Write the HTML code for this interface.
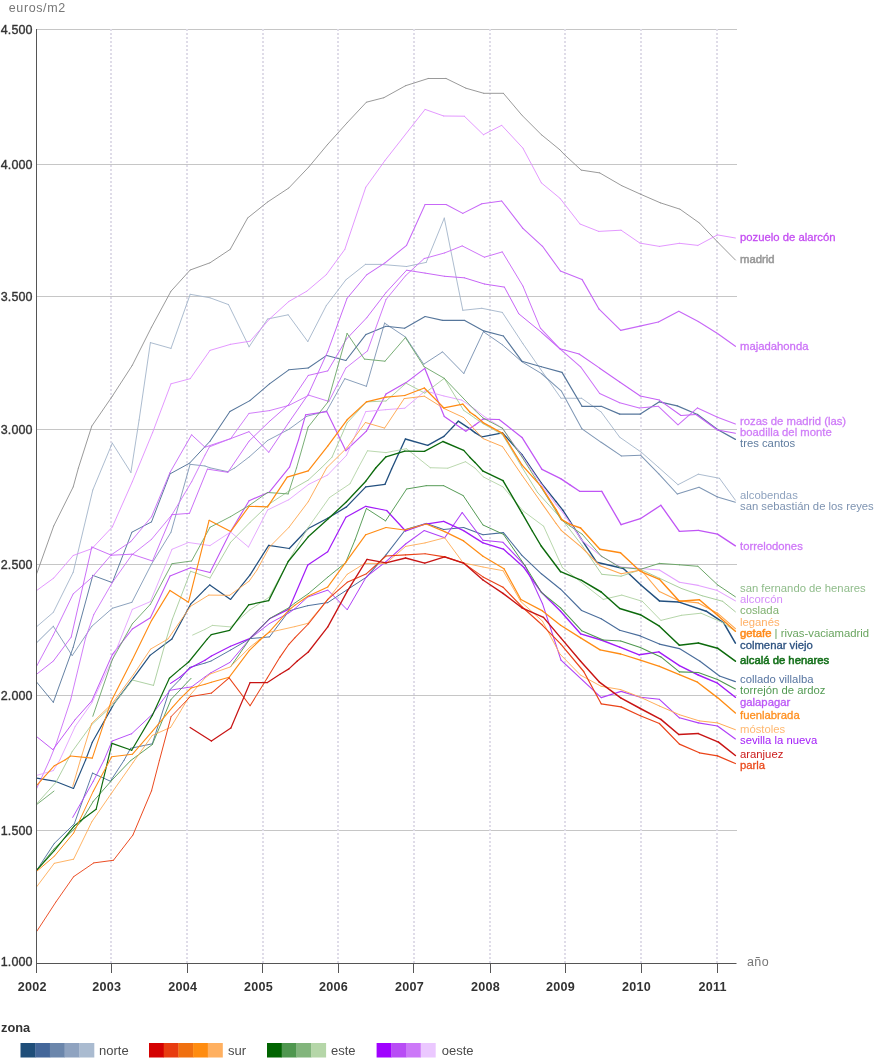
<!DOCTYPE html>
<html><head><meta charset="utf-8"><style>
html,body{margin:0;padding:0;background:#fff;}
body{width:875px;height:1059px;overflow:hidden;position:relative;font-family:"Liberation Sans",sans-serif;}
svg{position:absolute;left:0;top:0;opacity:0.9999;will-change:transform;}
text{font-family:"Liberation Sans",sans-serif;}
.yl{font-size:12.5px;fill:#333;font-weight:400;stroke:#333;stroke-width:0.35px;letter-spacing:0.1px;}
.xl{font-size:12.6px;fill:#333;font-weight:700;letter-spacing:0.25px;}
.lb{font-size:11.3px;}
</style></head><body>
<svg width="875" height="1059" viewBox="0 0 875 1059">
<rect width="875" height="1059" fill="#fff"/>
<g stroke="#c6c6c6" stroke-width="1" fill="none">
<line x1="37" y1="29.5" x2="737" y2="29.5"/>
<line x1="37" y1="164.5" x2="737" y2="164.5"/>
<line x1="37" y1="296.5" x2="737" y2="296.5"/>
<line x1="37" y1="429.5" x2="737" y2="429.5"/>
<line x1="37" y1="564.5" x2="737" y2="564.5"/>
<line x1="37" y1="695.5" x2="737" y2="695.5"/>
<line x1="37" y1="830.5" x2="737" y2="830.5"/>
</g>
<g stroke="#dfdce8" stroke-width="2" stroke-dasharray="2 2" fill="none">
<line x1="111" y1="29" x2="111" y2="963"/>
<line x1="187" y1="29" x2="187" y2="963"/>
<line x1="263" y1="29" x2="263" y2="963"/>
<line x1="338" y1="29" x2="338" y2="963"/>
<line x1="414" y1="29" x2="414" y2="963"/>
<line x1="490" y1="29" x2="490" y2="963"/>
<line x1="565" y1="29" x2="565" y2="963"/>
<line x1="641" y1="29" x2="641" y2="963"/>
<line x1="717" y1="29" x2="717" y2="963"/>
</g>
<g fill="none" stroke-linejoin="round" stroke-linecap="round">
<path d="M36.8,573.4L53.7,526.0" stroke="#8f8f8f" stroke-width="0.90"/>
<path d="M53.7,526.0L73.2,486.9" stroke="#8f8f8f" stroke-width="0.90"/>
<path d="M73.2,486.9L78.4,468.0" stroke="#8f8f8f" stroke-width="0.90"/>
<path d="M78.4,468.0L91.8,426.1" stroke="#8f8f8f" stroke-width="0.90"/>
<path d="M91.8,426.1L112.3,396.2" stroke="#8f8f8f" stroke-width="0.90"/>
<path d="M112.3,396.2L132.3,365.3" stroke="#8f8f8f" stroke-width="0.90"/>
<path d="M132.3,365.3L151.5,327.2" stroke="#8f8f8f" stroke-width="0.90"/>
<path d="M151.5,327.2L171.0,291.2" stroke="#8f8f8f" stroke-width="0.90"/>
<path d="M171.0,291.2L190.2,270.0" stroke="#8f8f8f" stroke-width="0.90"/>
<path d="M190.2,270.0L210.0,262.8" stroke="#8f8f8f" stroke-width="0.90"/>
<path d="M210.0,262.8L230.2,249.4" stroke="#8f8f8f" stroke-width="0.90"/>
<path d="M230.2,249.4L247.7,217.9" stroke="#8f8f8f" stroke-width="0.90"/>
<path d="M247.7,217.9L267.6,202.0" stroke="#8f8f8f" stroke-width="0.90"/>
<path d="M267.6,202.0L288.8,188.0" stroke="#8f8f8f" stroke-width="0.90"/>
<path d="M288.8,188.0L308.8,167.0" stroke="#8f8f8f" stroke-width="0.90"/>
<path d="M308.8,167.0L327.3,144.8" stroke="#8f8f8f" stroke-width="0.90"/>
<path d="M327.3,144.8L347.1,122.8" stroke="#8f8f8f" stroke-width="0.90"/>
<path d="M347.1,122.8L366.4,102.2" stroke="#8f8f8f" stroke-width="0.90"/>
<path d="M366.4,102.2L383.9,97.7" stroke="#8f8f8f" stroke-width="0.90"/>
<path d="M383.9,97.7L405.6,85.7" stroke="#8f8f8f" stroke-width="0.90"/>
<path d="M405.6,85.7L428.2,78.5" stroke="#8f8f8f" stroke-width="0.90"/>
<path d="M428.2,78.5L446.1,78.5" stroke="#8f8f8f" stroke-width="0.90"/>
<path d="M446.1,78.5L465.9,88.2" stroke="#8f8f8f" stroke-width="0.90"/>
<path d="M465.9,88.2L483.8,93.3" stroke="#8f8f8f" stroke-width="0.90"/>
<path d="M483.8,93.3L503.4,93.3" stroke="#8f8f8f" stroke-width="0.90"/>
<path d="M503.4,93.3L521.9,115.2" stroke="#8f8f8f" stroke-width="0.90"/>
<path d="M521.9,115.2L541.4,134.7" stroke="#8f8f8f" stroke-width="0.90"/>
<path d="M541.4,134.7L560.0,149.9" stroke="#8f8f8f" stroke-width="0.90"/>
<path d="M560.0,149.9L564.5,154.7" stroke="#8f8f8f" stroke-width="0.90"/>
<path d="M564.5,154.7L581.2,170.1" stroke="#8f8f8f" stroke-width="0.90"/>
<path d="M581.2,170.1L599.7,172.9" stroke="#8f8f8f" stroke-width="0.90"/>
<path d="M599.7,172.9L621.8,185.7" stroke="#8f8f8f" stroke-width="0.90"/>
<path d="M621.8,185.7L640.3,194.1" stroke="#8f8f8f" stroke-width="0.90"/>
<path d="M640.3,194.1L660.3,202.8" stroke="#8f8f8f" stroke-width="0.90"/>
<path d="M660.3,202.8L680.0,209.2" stroke="#8f8f8f" stroke-width="0.90"/>
<path d="M680.0,209.2L699.4,223.0" stroke="#8f8f8f" stroke-width="0.90"/>
<path d="M699.4,223.0L717.5,241.9" stroke="#8f8f8f" stroke-width="0.90"/>
<path d="M717.5,241.9L735.4,260.0" stroke="#8f8f8f" stroke-width="0.91"/>
<path d="M36.8,626.6L53.3,612.4" stroke="#a3b4ca" stroke-width="0.90"/>
<path d="M53.3,612.4L73.2,572.3" stroke="#a3b4ca" stroke-width="0.90"/>
<path d="M73.2,572.3L92.8,490.0" stroke="#a3b4ca" stroke-width="0.90"/>
<path d="M92.8,490.0L112.3,443.1" stroke="#a3b4ca" stroke-width="0.90"/>
<path d="M112.3,443.1L130.9,472.5" stroke="#a3b4ca" stroke-width="0.90"/>
<path d="M130.9,472.5L139.1,420.0" stroke="#a3b4ca" stroke-width="0.90"/>
<path d="M139.1,420.0L150.4,342.6" stroke="#a3b4ca" stroke-width="0.90"/>
<path d="M150.4,342.6L171.0,348.4" stroke="#a3b4ca" stroke-width="0.90"/>
<path d="M171.0,348.4L190.2,294.3" stroke="#a3b4ca" stroke-width="0.90"/>
<path d="M190.2,294.3L210.0,297.8" stroke="#a3b4ca" stroke-width="0.90"/>
<path d="M210.0,297.8L228.5,304.6" stroke="#a3b4ca" stroke-width="0.90"/>
<path d="M228.5,304.6L249.1,346.8" stroke="#a3b4ca" stroke-width="0.90"/>
<path d="M249.1,346.8L267.6,319.0" stroke="#a3b4ca" stroke-width="0.90"/>
<path d="M267.6,319.0L288.2,314.8" stroke="#a3b4ca" stroke-width="0.90"/>
<path d="M288.2,314.8L307.8,341.6" stroke="#a3b4ca" stroke-width="0.90"/>
<path d="M307.8,341.6L326.3,305.6" stroke="#a3b4ca" stroke-width="0.90"/>
<path d="M326.3,305.6L345.9,279.8" stroke="#a3b4ca" stroke-width="0.90"/>
<path d="M345.9,279.8L365.4,264.4" stroke="#a3b4ca" stroke-width="0.90"/>
<path d="M365.4,264.4L380.9,264.4" stroke="#a3b4ca" stroke-width="0.90"/>
<path d="M380.9,264.4L406.6,266.5" stroke="#a3b4ca" stroke-width="0.90"/>
<path d="M406.6,266.5L426.2,262.4" stroke="#a3b4ca" stroke-width="0.90"/>
<path d="M426.2,262.4L444.3,218.1" stroke="#a3b4ca" stroke-width="0.90"/>
<path d="M444.3,218.1L462.8,310.3" stroke="#a3b4ca" stroke-width="0.90"/>
<path d="M462.8,310.3L481.8,308.3" stroke="#a3b4ca" stroke-width="0.90"/>
<path d="M481.8,308.3L502.3,312.4" stroke="#a3b4ca" stroke-width="0.90"/>
<path d="M502.3,312.4L522.9,343.7" stroke="#a3b4ca" stroke-width="0.90"/>
<path d="M522.9,343.7L541.4,370.4" stroke="#a3b4ca" stroke-width="0.90"/>
<path d="M541.4,370.4L561.0,398.2" stroke="#a3b4ca" stroke-width="0.90"/>
<path d="M561.0,398.2L581.6,398.3" stroke="#a3b4ca" stroke-width="0.90"/>
<path d="M581.6,398.3L601.2,412.0" stroke="#a3b4ca" stroke-width="0.90"/>
<path d="M601.2,412.0L619.7,437.2" stroke="#a3b4ca" stroke-width="0.90"/>
<path d="M619.7,437.2L641.3,452.2" stroke="#a3b4ca" stroke-width="0.90"/>
<path d="M641.3,452.2L658.8,467.6" stroke="#a3b4ca" stroke-width="0.90"/>
<path d="M658.8,467.6L678.0,484.7" stroke="#a3b4ca" stroke-width="0.90"/>
<path d="M678.0,484.7L698.3,474.2" stroke="#a3b4ca" stroke-width="0.90"/>
<path d="M698.3,474.2L719.5,478.3" stroke="#a3b4ca" stroke-width="0.90"/>
<path d="M719.5,478.3L735.4,500.2" stroke="#a3b4ca" stroke-width="0.91"/>
<path d="M36.8,642.6L53.3,626.3" stroke="#7f97b5" stroke-width="0.90"/>
<path d="M53.3,626.3L72.2,655.6" stroke="#7f97b5" stroke-width="0.90"/>
<path d="M72.2,655.6L91.8,626.3" stroke="#7f97b5" stroke-width="0.90"/>
<path d="M91.8,626.3L112.3,608.3" stroke="#7f97b5" stroke-width="0.90"/>
<path d="M112.3,608.3L131.9,602.3" stroke="#7f97b5" stroke-width="0.90"/>
<path d="M131.9,602.3L151.5,564.1" stroke="#7f97b5" stroke-width="0.90"/>
<path d="M151.5,564.1L171.0,532.2" stroke="#7f97b5" stroke-width="0.90"/>
<path d="M171.0,532.2L190.1,464.3" stroke="#7f97b5" stroke-width="0.90"/>
<path d="M190.1,464.3L205.0,466.0" stroke="#7f97b5" stroke-width="0.90"/>
<path d="M205.0,466.0L209.9,467.8" stroke="#7f97b5" stroke-width="0.90"/>
<path d="M209.9,467.8L227.9,471.7" stroke="#7f97b5" stroke-width="0.90"/>
<path d="M227.9,471.7L234.7,468.0" stroke="#7f97b5" stroke-width="0.90"/>
<path d="M234.7,468.0L249.6,456.6" stroke="#7f97b5" stroke-width="0.90"/>
<path d="M249.6,456.6L267.7,440.4" stroke="#7f97b5" stroke-width="0.90"/>
<path d="M267.7,440.4L288.9,429.3" stroke="#7f97b5" stroke-width="0.90"/>
<path d="M288.9,429.3L306.8,416.3" stroke="#7f97b5" stroke-width="0.90"/>
<path d="M306.8,416.3L326.7,411.0" stroke="#7f97b5" stroke-width="0.91"/>
<path d="M326.7,411.0L344.8,378.7" stroke="#7f97b5" stroke-width="0.91"/>
<path d="M344.8,378.7L366.4,386.3" stroke="#7f97b5" stroke-width="0.92"/>
<path d="M366.4,386.3L384.6,323.1" stroke="#7f97b5" stroke-width="0.93"/>
<path d="M384.6,323.1L405.6,337.1" stroke="#7f97b5" stroke-width="0.94"/>
<path d="M405.6,337.1L423.7,364.2" stroke="#7f97b5" stroke-width="0.95"/>
<path d="M423.7,364.2L442.6,351.9" stroke="#7f97b5" stroke-width="0.96"/>
<path d="M442.6,351.9L463.8,373.5" stroke="#7f97b5" stroke-width="0.97"/>
<path d="M463.8,373.5L483.4,331.7" stroke="#7f97b5" stroke-width="0.98"/>
<path d="M483.4,331.7L502.3,344.7" stroke="#7f97b5" stroke-width="0.98"/>
<path d="M502.3,344.7L521.9,361.8" stroke="#7f97b5" stroke-width="0.99"/>
<path d="M521.9,361.8L541.4,373.5" stroke="#7f97b5" stroke-width="1.00"/>
<path d="M541.4,373.5L561.5,391.2" stroke="#7f97b5" stroke-width="1.01"/>
<path d="M561.5,391.2L582.0,428.9" stroke="#7f97b5" stroke-width="1.02"/>
<path d="M582.0,428.9L601.2,442.3" stroke="#7f97b5" stroke-width="1.03"/>
<path d="M601.2,442.3L621.3,455.9" stroke="#7f97b5" stroke-width="1.04"/>
<path d="M621.3,455.9L640.7,455.3" stroke="#7f97b5" stroke-width="1.05"/>
<path d="M640.7,455.3L658.8,473.8" stroke="#7f97b5" stroke-width="1.05"/>
<path d="M658.8,473.8L677.3,494.0" stroke="#7f97b5" stroke-width="1.06"/>
<path d="M677.3,494.0L699.0,487.2" stroke="#7f97b5" stroke-width="1.07"/>
<path d="M699.0,487.2L717.5,496.9" stroke="#7f97b5" stroke-width="1.08"/>
<path d="M717.5,496.9L735.4,502.2" stroke="#7f97b5" stroke-width="1.09"/>
<path d="M36.8,682.3L53.3,702.3" stroke="#56769b" stroke-width="0.91"/>
<path d="M53.3,702.3L73.2,647.3" stroke="#56769b" stroke-width="0.92"/>
<path d="M73.2,647.3L92.8,575.4" stroke="#56769b" stroke-width="0.93"/>
<path d="M92.8,575.4L112.3,582.6" stroke="#56769b" stroke-width="0.94"/>
<path d="M112.3,582.6L131.9,532.2" stroke="#56769b" stroke-width="0.95"/>
<path d="M131.9,532.2L151.5,521.9" stroke="#56769b" stroke-width="0.96"/>
<path d="M151.5,521.9L170.0,473.9" stroke="#56769b" stroke-width="0.97"/>
<path d="M170.0,473.9L189.5,463.2" stroke="#56769b" stroke-width="0.98"/>
<path d="M189.5,463.2L205.0,446.6" stroke="#56769b" stroke-width="0.99"/>
<path d="M205.0,446.6L210.0,441.3" stroke="#56769b" stroke-width="1.00"/>
<path d="M210.0,441.3L229.9,411.5" stroke="#56769b" stroke-width="1.01"/>
<path d="M229.9,411.5L249.9,400.6" stroke="#56769b" stroke-width="1.02"/>
<path d="M249.9,400.6L269.5,383.8" stroke="#56769b" stroke-width="1.03"/>
<path d="M269.5,383.8L288.8,369.8" stroke="#56769b" stroke-width="1.04"/>
<path d="M288.8,369.8L308.2,368.0" stroke="#56769b" stroke-width="1.05"/>
<path d="M308.2,368.0L326.7,355.4" stroke="#56769b" stroke-width="1.06"/>
<path d="M326.7,355.4L345.9,360.5" stroke="#56769b" stroke-width="1.07"/>
<path d="M345.9,360.5L366.0,334.4" stroke="#56769b" stroke-width="1.08"/>
<path d="M366.0,334.4L386.0,326.2" stroke="#56769b" stroke-width="1.09"/>
<path d="M386.0,326.2L404.6,328.2" stroke="#56769b" stroke-width="1.10"/>
<path d="M404.6,328.2L425.1,316.5" stroke="#56769b" stroke-width="1.11"/>
<path d="M425.1,316.5L442.6,320.4" stroke="#56769b" stroke-width="1.12"/>
<path d="M442.6,320.4L464.7,320.4" stroke="#56769b" stroke-width="1.13"/>
<path d="M464.7,320.4L483.8,330.9" stroke="#56769b" stroke-width="1.14"/>
<path d="M483.8,330.9L503.4,336.0" stroke="#56769b" stroke-width="1.15"/>
<path d="M503.4,336.0L521.9,361.2" stroke="#56769b" stroke-width="1.16"/>
<path d="M521.9,361.2L541.4,366.7" stroke="#56769b" stroke-width="1.17"/>
<path d="M541.4,366.7L562.0,372.4" stroke="#56769b" stroke-width="1.18"/>
<path d="M562.0,372.4L582.0,406.3" stroke="#56769b" stroke-width="1.19"/>
<path d="M582.0,406.3L601.2,406.3" stroke="#56769b" stroke-width="1.20"/>
<path d="M601.2,406.3L619.7,414.1" stroke="#56769b" stroke-width="1.21"/>
<path d="M619.7,414.1L640.3,414.1" stroke="#56769b" stroke-width="1.22"/>
<path d="M640.3,414.1L659.4,401.8" stroke="#56769b" stroke-width="1.23"/>
<path d="M659.4,401.8L677.3,405.9" stroke="#56769b" stroke-width="1.24"/>
<path d="M677.3,405.9L697.5,414.5" stroke="#56769b" stroke-width="1.25"/>
<path d="M697.5,414.5L717.5,429.5" stroke="#56769b" stroke-width="1.26"/>
<path d="M717.5,429.5L735.4,439.4" stroke="#56769b" stroke-width="1.27"/>
<path d="M36.8,870.1L54.3,843.4" stroke="#4a6d9b" stroke-width="0.90"/>
<path d="M54.3,843.4L74.3,823.8" stroke="#4a6d9b" stroke-width="0.90"/>
<path d="M74.3,823.8L92.5,773.1" stroke="#4a6d9b" stroke-width="0.90"/>
<path d="M92.5,773.1L110.4,781.2" stroke="#4a6d9b" stroke-width="0.90"/>
<path d="M110.4,781.2L123.9,760.5" stroke="#4a6d9b" stroke-width="0.90"/>
<path d="M123.9,760.5L130.6,748.3" stroke="#4a6d9b" stroke-width="0.90"/>
<path d="M130.6,748.3L152.3,743.8" stroke="#4a6d9b" stroke-width="0.90"/>
<path d="M152.3,743.8L169.4,690.3" stroke="#4a6d9b" stroke-width="0.91"/>
<path d="M169.4,690.3L180.0,679.4" stroke="#4a6d9b" stroke-width="0.91"/>
<path d="M180.0,679.4L189.6,667.4" stroke="#4a6d9b" stroke-width="0.92"/>
<path d="M189.6,667.4L205.0,663.1" stroke="#4a6d9b" stroke-width="0.92"/>
<path d="M205.0,663.1L211.1,661.0" stroke="#4a6d9b" stroke-width="0.93"/>
<path d="M211.1,661.0L230.5,650.1" stroke="#4a6d9b" stroke-width="0.93"/>
<path d="M230.5,650.1L250.1,638.6" stroke="#4a6d9b" stroke-width="0.94"/>
<path d="M250.1,638.6L269.5,636.9" stroke="#4a6d9b" stroke-width="0.95"/>
<path d="M269.5,636.9L288.9,611.1" stroke="#4a6d9b" stroke-width="0.96"/>
<path d="M288.9,611.1L295.0,609.1" stroke="#4a6d9b" stroke-width="0.97"/>
<path d="M295.0,609.1L307.6,605.7" stroke="#4a6d9b" stroke-width="0.97"/>
<path d="M307.6,605.7L327.8,602.6" stroke="#4a6d9b" stroke-width="0.98"/>
<path d="M327.8,602.6L347.2,589.7" stroke="#4a6d9b" stroke-width="0.99"/>
<path d="M347.2,589.7L366.5,577.1" stroke="#4a6d9b" stroke-width="1.00"/>
<path d="M366.5,577.1L386.0,554.9" stroke="#4a6d9b" stroke-width="1.01"/>
<path d="M386.0,554.9L405.6,529.5" stroke="#4a6d9b" stroke-width="1.02"/>
<path d="M405.6,529.5L426.2,523.4" stroke="#4a6d9b" stroke-width="1.03"/>
<path d="M426.2,523.4L443.7,529.5" stroke="#4a6d9b" stroke-width="1.04"/>
<path d="M443.7,529.5L463.6,527.5" stroke="#4a6d9b" stroke-width="1.05"/>
<path d="M463.6,527.5L483.0,534.7" stroke="#4a6d9b" stroke-width="1.06"/>
<path d="M483.0,534.7L503.4,532.6" stroke="#4a6d9b" stroke-width="1.07"/>
<path d="M503.4,532.6L521.9,555.3" stroke="#4a6d9b" stroke-width="1.08"/>
<path d="M521.9,555.3L541.4,573.8" stroke="#4a6d9b" stroke-width="1.08"/>
<path d="M541.4,573.8L560.6,589.2" stroke="#4a6d9b" stroke-width="1.09"/>
<path d="M560.6,589.2L581.6,610.5" stroke="#4a6d9b" stroke-width="1.10"/>
<path d="M581.6,610.5L601.2,618.8" stroke="#4a6d9b" stroke-width="1.11"/>
<path d="M601.2,618.8L619.7,630.3" stroke="#4a6d9b" stroke-width="1.12"/>
<path d="M619.7,630.3L640.3,635.9" stroke="#4a6d9b" stroke-width="1.13"/>
<path d="M640.3,635.9L659.4,644.1" stroke="#4a6d9b" stroke-width="1.14"/>
<path d="M659.4,644.1L679.4,648.6" stroke="#4a6d9b" stroke-width="1.15"/>
<path d="M679.4,648.6L700.0,661.2" stroke="#4a6d9b" stroke-width="1.16"/>
<path d="M700.0,661.2L719.5,676.0" stroke="#4a6d9b" stroke-width="1.17"/>
<path d="M719.5,676.0L735.4,681.6" stroke="#4a6d9b" stroke-width="1.18"/>
<path d="M36.7,778.1L55.8,781.4" stroke="#23507f" stroke-width="1.11"/>
<path d="M55.8,781.4L73.5,788.5" stroke="#23507f" stroke-width="1.12"/>
<path d="M73.5,788.5L85.6,760.0" stroke="#23507f" stroke-width="1.13"/>
<path d="M85.6,760.0L92.3,742.3" stroke="#23507f" stroke-width="1.14"/>
<path d="M92.3,742.3L114.2,703.4" stroke="#23507f" stroke-width="1.15"/>
<path d="M114.2,703.4L133.7,677.7" stroke="#23507f" stroke-width="1.16"/>
<path d="M133.7,677.7L150.0,655.4" stroke="#23507f" stroke-width="1.17"/>
<path d="M150.0,655.4L171.9,639.0" stroke="#23507f" stroke-width="1.18"/>
<path d="M171.9,639.0L190.6,604.2" stroke="#23507f" stroke-width="1.20"/>
<path d="M190.6,604.2L205.0,589.4" stroke="#23507f" stroke-width="1.21"/>
<path d="M205.0,589.4L209.8,584.9" stroke="#23507f" stroke-width="1.21"/>
<path d="M209.8,584.9L230.6,599.4" stroke="#23507f" stroke-width="1.22"/>
<path d="M230.6,599.4L250.1,574.8" stroke="#23507f" stroke-width="1.23"/>
<path d="M250.1,574.8L268.7,545.4" stroke="#23507f" stroke-width="1.25"/>
<path d="M268.7,545.4L289.3,548.5" stroke="#23507f" stroke-width="1.26"/>
<path d="M289.3,548.5L308.2,528.5" stroke="#23507f" stroke-width="1.27"/>
<path d="M308.2,528.5L327.7,518.2" stroke="#23507f" stroke-width="1.28"/>
<path d="M327.7,518.2L346.5,506.9" stroke="#23507f" stroke-width="1.30"/>
<path d="M346.5,506.9L365.8,486.9" stroke="#23507f" stroke-width="1.31"/>
<path d="M365.8,486.9L385.0,484.3" stroke="#23507f" stroke-width="1.32"/>
<path d="M385.0,484.3L391.6,469.0" stroke="#23507f" stroke-width="1.33"/>
<path d="M391.6,469.0L405.4,439.0" stroke="#23507f" stroke-width="1.33"/>
<path d="M405.4,439.0L427.7,445.4" stroke="#23507f" stroke-width="1.35"/>
<path d="M427.7,445.4L443.9,436.4" stroke="#23507f" stroke-width="1.36"/>
<path d="M443.9,436.4L458.3,421.2" stroke="#23507f" stroke-width="1.37"/>
<path d="M458.3,421.2L470.0,428.9" stroke="#23507f" stroke-width="1.38"/>
<path d="M470.0,428.9L475.0,432.6" stroke="#23507f" stroke-width="1.38"/>
<path d="M475.0,432.6L482.0,436.9" stroke="#23507f" stroke-width="1.38"/>
<path d="M482.0,436.9L502.5,432.9" stroke="#23507f" stroke-width="1.39"/>
<path d="M502.5,432.9L521.9,454.6" stroke="#23507f" stroke-width="1.41"/>
<path d="M521.9,454.6L541.3,483.1" stroke="#23507f" stroke-width="1.42"/>
<path d="M541.3,483.1L556.1,501.6" stroke="#23507f" stroke-width="1.43"/>
<path d="M556.1,501.6L562.8,510.1" stroke="#23507f" stroke-width="1.44"/>
<path d="M562.8,510.1L570.0,521.4" stroke="#23507f" stroke-width="1.44"/>
<path d="M570.0,521.4L580.6,538.1" stroke="#23507f" stroke-width="1.45"/>
<path d="M580.6,538.1L596.6,562.2" stroke="#23507f" stroke-width="1.45"/>
<path d="M596.6,562.2L623.4,568.5" stroke="#23507f" stroke-width="1.47"/>
<path d="M623.4,568.5L640.9,585.0" stroke="#23507f" stroke-width="1.48"/>
<path d="M640.9,585.0L659.4,600.9" stroke="#23507f" stroke-width="1.49"/>
<path d="M659.4,600.9L678.4,601.9" stroke="#23507f" stroke-width="1.50"/>
<path d="M678.4,601.9L706.2,611.2" stroke="#23507f" stroke-width="1.52"/>
<path d="M706.2,611.2L723.7,622.9" stroke="#23507f" stroke-width="1.53"/>
<path d="M723.7,622.9L735.4,643.1" stroke="#23507f" stroke-width="1.54"/>
<path d="M36.8,590.4L53.7,578.1" stroke="#e08cff" stroke-width="0.90"/>
<path d="M53.7,578.1L73.2,555.5" stroke="#e08cff" stroke-width="0.90"/>
<path d="M73.2,555.5L91.8,548.7" stroke="#e08cff" stroke-width="0.90"/>
<path d="M91.8,548.7L112.3,527.0" stroke="#e08cff" stroke-width="0.90"/>
<path d="M112.3,527.0L132.3,481.8" stroke="#e08cff" stroke-width="0.90"/>
<path d="M132.3,481.8L152.5,432.8" stroke="#e08cff" stroke-width="0.90"/>
<path d="M152.5,432.8L171.0,383.8" stroke="#e08cff" stroke-width="0.90"/>
<path d="M171.0,383.8L190.2,378.7" stroke="#e08cff" stroke-width="0.90"/>
<path d="M190.2,378.7L210.0,350.4" stroke="#e08cff" stroke-width="0.90"/>
<path d="M210.0,350.4L230.6,344.3" stroke="#e08cff" stroke-width="0.90"/>
<path d="M230.6,344.3L250.1,341.2" stroke="#e08cff" stroke-width="0.90"/>
<path d="M250.1,341.2L269.5,319.0" stroke="#e08cff" stroke-width="0.90"/>
<path d="M269.5,319.0L288.8,301.5" stroke="#e08cff" stroke-width="0.90"/>
<path d="M288.8,301.5L306.8,291.2" stroke="#e08cff" stroke-width="0.90"/>
<path d="M306.8,291.2L326.3,274.7" stroke="#e08cff" stroke-width="0.90"/>
<path d="M326.3,274.7L344.8,249.4" stroke="#e08cff" stroke-width="0.90"/>
<path d="M344.8,249.4L365.8,187.2" stroke="#e08cff" stroke-width="0.90"/>
<path d="M365.8,187.2L385.0,160.5" stroke="#e08cff" stroke-width="0.90"/>
<path d="M385.0,160.5L425.1,109.4" stroke="#e08cff" stroke-width="0.90"/>
<path d="M425.1,109.4L443.7,116.0" stroke="#e08cff" stroke-width="0.90"/>
<path d="M443.7,116.0L464.3,116.2" stroke="#e08cff" stroke-width="0.90"/>
<path d="M464.3,116.2L483.4,134.7" stroke="#e08cff" stroke-width="0.90"/>
<path d="M483.4,134.7L501.7,125.3" stroke="#e08cff" stroke-width="0.90"/>
<path d="M501.7,125.3L522.9,148.1" stroke="#e08cff" stroke-width="0.90"/>
<path d="M522.9,148.1L541.4,182.9" stroke="#e08cff" stroke-width="0.90"/>
<path d="M541.4,182.9L560.0,198.3" stroke="#e08cff" stroke-width="0.90"/>
<path d="M560.0,198.3L580.0,224.0" stroke="#e08cff" stroke-width="0.90"/>
<path d="M580.0,224.0L598.7,231.4" stroke="#e08cff" stroke-width="0.90"/>
<path d="M598.7,231.4L621.1,230.2" stroke="#e08cff" stroke-width="0.90"/>
<path d="M621.1,230.2L639.9,243.1" stroke="#e08cff" stroke-width="0.90"/>
<path d="M639.9,243.1L659.4,246.4" stroke="#e08cff" stroke-width="0.90"/>
<path d="M659.4,246.4L679.4,243.3" stroke="#e08cff" stroke-width="0.90"/>
<path d="M679.4,243.3L697.9,245.4" stroke="#e08cff" stroke-width="0.90"/>
<path d="M697.9,245.4L717.5,234.9" stroke="#e08cff" stroke-width="0.90"/>
<path d="M717.5,234.9L735.4,238.0" stroke="#e08cff" stroke-width="0.91"/>
<path d="M36.8,665.9L53.3,635.0" stroke="#c768f7" stroke-width="0.90"/>
<path d="M53.3,635.0L73.2,593.9" stroke="#c768f7" stroke-width="0.90"/>
<path d="M73.2,593.9L91.8,577.5" stroke="#c768f7" stroke-width="0.90"/>
<path d="M91.8,577.5L111.3,554.8" stroke="#c768f7" stroke-width="0.90"/>
<path d="M111.3,554.8L130.9,541.5" stroke="#c768f7" stroke-width="0.90"/>
<path d="M130.9,541.5L151.5,516.8" stroke="#c768f7" stroke-width="0.90"/>
<path d="M151.5,516.8L170.0,472.5" stroke="#c768f7" stroke-width="0.91"/>
<path d="M170.0,472.5L191.6,434.8" stroke="#c768f7" stroke-width="0.91"/>
<path d="M191.6,434.8L205.0,447.2" stroke="#c768f7" stroke-width="0.92"/>
<path d="M205.0,447.2L230.7,438.6" stroke="#c768f7" stroke-width="0.93"/>
<path d="M230.7,438.6L249.0,431.7" stroke="#c768f7" stroke-width="0.94"/>
<path d="M249.0,431.7L268.7,452.3" stroke="#c768f7" stroke-width="0.95"/>
<path d="M268.7,452.3L288.9,422.3" stroke="#c768f7" stroke-width="0.96"/>
<path d="M288.9,422.3L308.3,394.3" stroke="#c768f7" stroke-width="0.97"/>
<path d="M308.3,394.3L327.8,351.4" stroke="#c768f7" stroke-width="0.98"/>
<path d="M327.8,351.4L347.1,298.3" stroke="#c768f7" stroke-width="0.99"/>
<path d="M347.1,298.3L366.6,274.9" stroke="#c768f7" stroke-width="1.00"/>
<path d="M366.6,274.9L385.0,262.8" stroke="#c768f7" stroke-width="1.01"/>
<path d="M385.0,262.8L406.6,245.3" stroke="#c768f7" stroke-width="1.02"/>
<path d="M406.6,245.3L425.1,204.5" stroke="#c768f7" stroke-width="1.03"/>
<path d="M425.1,204.5L446.1,204.5" stroke="#c768f7" stroke-width="1.04"/>
<path d="M446.1,204.5L462.8,213.4" stroke="#c768f7" stroke-width="1.05"/>
<path d="M462.8,213.4L481.8,203.7" stroke="#c768f7" stroke-width="1.06"/>
<path d="M481.8,203.7L501.7,201.0" stroke="#c768f7" stroke-width="1.07"/>
<path d="M501.7,201.0L522.9,228.4" stroke="#c768f7" stroke-width="1.07"/>
<path d="M522.9,228.4L542.5,246.3" stroke="#c768f7" stroke-width="1.08"/>
<path d="M542.5,246.3L560.4,271.0" stroke="#c768f7" stroke-width="1.09"/>
<path d="M560.4,271.0L582.0,279.4" stroke="#c768f7" stroke-width="1.10"/>
<path d="M582.0,279.4L599.1,309.2" stroke="#c768f7" stroke-width="1.11"/>
<path d="M599.1,309.2L620.7,330.4" stroke="#c768f7" stroke-width="1.12"/>
<path d="M620.7,330.4L639.9,326.1" stroke="#c768f7" stroke-width="1.13"/>
<path d="M639.9,326.1L658.4,322.0" stroke="#c768f7" stroke-width="1.14"/>
<path d="M658.4,322.0L678.8,311.3" stroke="#c768f7" stroke-width="1.15"/>
<path d="M678.8,311.3L698.3,321.6" stroke="#c768f7" stroke-width="1.16"/>
<path d="M698.3,321.6L717.5,333.5" stroke="#c768f7" stroke-width="1.17"/>
<path d="M717.5,333.5L735.4,346.3" stroke="#c768f7" stroke-width="1.18"/>
<path d="M36.7,788.5L49.6,760.0" stroke="#cc6ff8" stroke-width="0.90"/>
<path d="M49.6,760.0L55.9,744.6" stroke="#cc6ff8" stroke-width="0.90"/>
<path d="M55.9,744.6L70.6,700.0" stroke="#cc6ff8" stroke-width="0.90"/>
<path d="M70.6,700.0L85.6,638.0" stroke="#cc6ff8" stroke-width="0.90"/>
<path d="M85.6,638.0L93.8,614.5" stroke="#cc6ff8" stroke-width="0.90"/>
<path d="M93.8,614.5L112.3,582.6" stroke="#cc6ff8" stroke-width="0.90"/>
<path d="M112.3,582.6L131.9,554.8" stroke="#cc6ff8" stroke-width="0.90"/>
<path d="M131.9,554.8L151.5,539.4" stroke="#cc6ff8" stroke-width="0.90"/>
<path d="M151.5,539.4L172.0,514.7" stroke="#cc6ff8" stroke-width="0.90"/>
<path d="M172.0,514.7L191.6,481.8" stroke="#cc6ff8" stroke-width="0.90"/>
<path d="M191.6,481.8L205.0,455.1" stroke="#cc6ff8" stroke-width="0.90"/>
<path d="M205.0,455.1L209.5,446.8" stroke="#cc6ff8" stroke-width="0.90"/>
<path d="M209.5,446.8L230.7,438.6" stroke="#cc6ff8" stroke-width="0.90"/>
<path d="M230.7,438.6L249.0,413.4" stroke="#cc6ff8" stroke-width="0.90"/>
<path d="M249.0,413.4L269.5,410.6" stroke="#cc6ff8" stroke-width="0.90"/>
<path d="M269.5,410.6L288.9,405.4" stroke="#cc6ff8" stroke-width="0.90"/>
<path d="M288.9,405.4L308.9,395.2" stroke="#cc6ff8" stroke-width="0.90"/>
<path d="M308.9,395.2L328.9,401.4" stroke="#cc6ff8" stroke-width="0.91"/>
<path d="M328.9,401.4L345.9,368.0" stroke="#cc6ff8" stroke-width="0.91"/>
<path d="M345.9,368.0L367.5,350.9" stroke="#cc6ff8" stroke-width="0.92"/>
<path d="M367.5,350.9L386.1,299.4" stroke="#cc6ff8" stroke-width="0.93"/>
<path d="M386.1,299.4L405.6,275.7" stroke="#cc6ff8" stroke-width="0.94"/>
<path d="M405.6,275.7L424.1,258.6" stroke="#cc6ff8" stroke-width="0.95"/>
<path d="M424.1,258.6L444.7,252.9" stroke="#cc6ff8" stroke-width="0.96"/>
<path d="M444.7,252.9L462.2,245.9" stroke="#cc6ff8" stroke-width="0.97"/>
<path d="M462.2,245.9L484.4,257.2" stroke="#cc6ff8" stroke-width="0.97"/>
<path d="M484.4,257.2L502.3,251.9" stroke="#cc6ff8" stroke-width="0.98"/>
<path d="M502.3,251.9L522.9,286.0" stroke="#cc6ff8" stroke-width="0.99"/>
<path d="M522.9,286.0L540.4,328.2" stroke="#cc6ff8" stroke-width="1.00"/>
<path d="M540.4,328.2L560.0,348.8" stroke="#cc6ff8" stroke-width="1.01"/>
<path d="M560.0,348.8L580.6,366.8" stroke="#cc6ff8" stroke-width="1.02"/>
<path d="M580.6,366.8L599.7,393.5" stroke="#cc6ff8" stroke-width="1.03"/>
<path d="M599.7,393.5L619.7,402.8" stroke="#cc6ff8" stroke-width="1.04"/>
<path d="M619.7,402.8L639.3,407.9" stroke="#cc6ff8" stroke-width="1.04"/>
<path d="M639.3,407.9L658.4,406.3" stroke="#cc6ff8" stroke-width="1.05"/>
<path d="M658.4,406.3L678.0,424.8" stroke="#cc6ff8" stroke-width="1.06"/>
<path d="M678.0,424.8L697.5,407.9" stroke="#cc6ff8" stroke-width="1.07"/>
<path d="M697.5,407.9L717.5,417.2" stroke="#cc6ff8" stroke-width="1.08"/>
<path d="M717.5,417.2L735.4,424.0" stroke="#cc6ff8" stroke-width="1.09"/>
<path d="M36.8,674.1L53.3,661.1" stroke="#c560f6" stroke-width="0.90"/>
<path d="M53.3,661.1L71.2,637.1" stroke="#c560f6" stroke-width="0.90"/>
<path d="M71.2,637.1L91.8,547.0" stroke="#c560f6" stroke-width="0.90"/>
<path d="M91.8,547.0L111.3,555.2" stroke="#c560f6" stroke-width="0.90"/>
<path d="M111.3,555.2L131.9,554.2" stroke="#c560f6" stroke-width="0.90"/>
<path d="M131.9,554.2L152.5,561.0" stroke="#c560f6" stroke-width="0.90"/>
<path d="M152.5,561.0L172.0,514.7" stroke="#c560f6" stroke-width="0.90"/>
<path d="M172.0,514.7L189.5,513.3" stroke="#c560f6" stroke-width="0.90"/>
<path d="M189.5,513.3L207.4,469.1" stroke="#c560f6" stroke-width="0.90"/>
<path d="M207.4,469.1L227.9,472.3" stroke="#c560f6" stroke-width="0.90"/>
<path d="M227.9,472.3L249.1,441.1" stroke="#c560f6" stroke-width="0.90"/>
<path d="M249.1,441.1L269.5,421.4" stroke="#c560f6" stroke-width="0.90"/>
<path d="M269.5,421.4L288.9,404.3" stroke="#c560f6" stroke-width="0.90"/>
<path d="M288.9,404.3L308.3,375.4" stroke="#c560f6" stroke-width="0.90"/>
<path d="M308.3,375.4L327.8,370.9" stroke="#c560f6" stroke-width="0.91"/>
<path d="M327.8,370.9L346.6,338.9" stroke="#c560f6" stroke-width="0.91"/>
<path d="M346.6,338.9L366.6,317.9" stroke="#c560f6" stroke-width="0.92"/>
<path d="M366.6,317.9L386.0,292.6" stroke="#c560f6" stroke-width="0.93"/>
<path d="M386.0,292.6L406.6,270.2" stroke="#c560f6" stroke-width="0.94"/>
<path d="M406.6,270.2L425.1,273.1" stroke="#c560f6" stroke-width="0.95"/>
<path d="M425.1,273.1L444.7,276.3" stroke="#c560f6" stroke-width="0.96"/>
<path d="M444.7,276.3L464.3,277.8" stroke="#c560f6" stroke-width="0.97"/>
<path d="M464.3,277.8L484.4,284.0" stroke="#c560f6" stroke-width="0.98"/>
<path d="M484.4,284.0L504.4,287.1" stroke="#c560f6" stroke-width="0.98"/>
<path d="M504.4,287.1L518.8,313.8" stroke="#c560f6" stroke-width="0.99"/>
<path d="M518.8,313.8L541.4,332.3" stroke="#c560f6" stroke-width="1.00"/>
<path d="M541.4,332.3L560.0,348.8" stroke="#c560f6" stroke-width="1.01"/>
<path d="M560.0,348.8L579.1,354.0" stroke="#c560f6" stroke-width="1.02"/>
<path d="M579.1,354.0L599.7,368.2" stroke="#c560f6" stroke-width="1.03"/>
<path d="M599.7,368.2L619.7,382.0" stroke="#c560f6" stroke-width="1.04"/>
<path d="M619.7,382.0L640.3,396.0" stroke="#c560f6" stroke-width="1.04"/>
<path d="M640.3,396.0L659.4,400.1" stroke="#c560f6" stroke-width="1.05"/>
<path d="M659.4,400.1L681.0,415.5" stroke="#c560f6" stroke-width="1.06"/>
<path d="M681.0,415.5L695.9,414.5" stroke="#c560f6" stroke-width="1.07"/>
<path d="M695.9,414.5L717.5,430.0" stroke="#c560f6" stroke-width="1.08"/>
<path d="M717.5,430.0L735.4,433.3" stroke="#c560f6" stroke-width="1.09"/>
<path d="M36.6,736.6L52.9,749.7" stroke="#c055f5" stroke-width="0.98"/>
<path d="M52.9,749.7L75.3,719.4" stroke="#c055f5" stroke-width="0.99"/>
<path d="M75.3,719.4L91.8,700.9" stroke="#c055f5" stroke-width="1.00"/>
<path d="M91.8,700.9L112.3,654.6" stroke="#c055f5" stroke-width="1.01"/>
<path d="M112.3,654.6L132.3,629.0" stroke="#c055f5" stroke-width="1.02"/>
<path d="M132.3,629.0L150.4,617.7" stroke="#c055f5" stroke-width="1.03"/>
<path d="M150.4,617.7L170.0,576.0" stroke="#c055f5" stroke-width="1.04"/>
<path d="M170.0,576.0L190.6,567.8" stroke="#c055f5" stroke-width="1.06"/>
<path d="M190.6,567.8L210.0,572.6" stroke="#c055f5" stroke-width="1.07"/>
<path d="M210.0,572.6L230.6,531.6" stroke="#c055f5" stroke-width="1.08"/>
<path d="M230.6,531.6L249.1,500.7" stroke="#c055f5" stroke-width="1.09"/>
<path d="M249.1,500.7L269.5,491.9" stroke="#c055f5" stroke-width="1.10"/>
<path d="M269.5,491.9L289.5,467.2" stroke="#c055f5" stroke-width="1.11"/>
<path d="M289.5,467.2L298.5,440.0" stroke="#c055f5" stroke-width="1.12"/>
<path d="M298.5,440.0L305.7,414.7" stroke="#c055f5" stroke-width="1.12"/>
<path d="M305.7,414.7L326.7,411.6" stroke="#c055f5" stroke-width="1.13"/>
<path d="M326.7,411.6L345.9,450.7" stroke="#c055f5" stroke-width="1.14"/>
<path d="M345.9,450.7L366.4,431.2" stroke="#c055f5" stroke-width="1.15"/>
<path d="M366.4,431.2L386.0,394.1" stroke="#c055f5" stroke-width="1.16"/>
<path d="M386.0,394.1L406.1,382.6" stroke="#c055f5" stroke-width="1.18"/>
<path d="M406.1,382.6L424.8,368.4" stroke="#c055f5" stroke-width="1.19"/>
<path d="M424.8,368.4L444.3,416.4" stroke="#c055f5" stroke-width="1.20"/>
<path d="M444.3,416.4L465.8,431.2" stroke="#c055f5" stroke-width="1.21"/>
<path d="M465.8,431.2L475.0,425.1" stroke="#c055f5" stroke-width="1.22"/>
<path d="M475.0,425.1L483.1,419.1" stroke="#c055f5" stroke-width="1.22"/>
<path d="M483.1,419.1L499.1,419.5" stroke="#c055f5" stroke-width="1.23"/>
<path d="M499.1,419.5L522.0,437.4" stroke="#c055f5" stroke-width="1.24"/>
<path d="M522.0,437.4L542.0,469.4" stroke="#c055f5" stroke-width="1.25"/>
<path d="M542.0,469.4L560.7,478.6" stroke="#c055f5" stroke-width="1.26"/>
<path d="M560.7,478.6L570.0,484.9" stroke="#c055f5" stroke-width="1.27"/>
<path d="M570.0,484.9L579.6,491.3" stroke="#c055f5" stroke-width="1.28"/>
<path d="M579.6,491.3L601.8,491.3" stroke="#c055f5" stroke-width="1.28"/>
<path d="M601.8,491.3L621.1,524.7" stroke="#c055f5" stroke-width="1.30"/>
<path d="M621.1,524.7L640.3,518.7" stroke="#c055f5" stroke-width="1.31"/>
<path d="M640.3,518.7L660.9,505.3" stroke="#c055f5" stroke-width="1.32"/>
<path d="M660.9,505.3L679.4,531.4" stroke="#c055f5" stroke-width="1.33"/>
<path d="M679.4,531.4L698.3,530.4" stroke="#c055f5" stroke-width="1.34"/>
<path d="M698.3,530.4L717.5,534.1" stroke="#c055f5" stroke-width="1.35"/>
<path d="M717.5,534.1L735.4,545.9" stroke="#c055f5" stroke-width="1.36"/>
<path d="M36.7,775.4L53.3,770.6" stroke="#e3a0ff" stroke-width="0.90"/>
<path d="M53.3,770.6L59.8,760.0" stroke="#e3a0ff" stroke-width="0.90"/>
<path d="M59.8,760.0L75.3,726.3" stroke="#e3a0ff" stroke-width="0.90"/>
<path d="M75.3,726.3L91.8,702.9" stroke="#e3a0ff" stroke-width="0.90"/>
<path d="M91.8,702.9L112.3,659.7" stroke="#e3a0ff" stroke-width="0.90"/>
<path d="M112.3,659.7L132.3,609.4" stroke="#e3a0ff" stroke-width="0.90"/>
<path d="M132.3,609.4L150.4,601.6" stroke="#e3a0ff" stroke-width="0.90"/>
<path d="M150.4,601.6L172.0,549.3" stroke="#e3a0ff" stroke-width="0.90"/>
<path d="M172.0,549.3L188.5,542.5" stroke="#e3a0ff" stroke-width="0.90"/>
<path d="M188.5,542.5L210.0,545.6" stroke="#e3a0ff" stroke-width="0.90"/>
<path d="M210.0,545.6L230.6,532.0" stroke="#e3a0ff" stroke-width="0.90"/>
<path d="M230.6,532.0L248.5,547.0" stroke="#e3a0ff" stroke-width="0.90"/>
<path d="M248.5,547.0L267.6,510.0" stroke="#e3a0ff" stroke-width="0.90"/>
<path d="M267.6,510.0L288.8,499.7" stroke="#e3a0ff" stroke-width="0.90"/>
<path d="M288.8,499.7L308.8,484.3" stroke="#e3a0ff" stroke-width="0.90"/>
<path d="M308.8,484.3L327.7,475.0" stroke="#e3a0ff" stroke-width="0.91"/>
<path d="M327.7,475.0L346.5,455.4" stroke="#e3a0ff" stroke-width="0.91"/>
<path d="M346.5,455.4L365.8,411.6" stroke="#e3a0ff" stroke-width="0.92"/>
<path d="M365.8,411.6L385.5,409.7" stroke="#e3a0ff" stroke-width="0.93"/>
<path d="M385.5,409.7L404.8,408.2" stroke="#e3a0ff" stroke-width="0.94"/>
<path d="M404.8,408.2L425.1,390.9" stroke="#e3a0ff" stroke-width="0.95"/>
<path d="M425.1,390.9L443.9,396.0" stroke="#e3a0ff" stroke-width="0.96"/>
<path d="M443.9,396.0L461.7,400.1" stroke="#e3a0ff" stroke-width="0.97"/>
<path d="M461.7,400.1L475.3,409.4" stroke="#e3a0ff" stroke-width="0.97"/>
<path d="M475.3,409.4L483.1,415.7" stroke="#e3a0ff" stroke-width="0.98"/>
<path d="M483.1,415.7L502.5,428.3" stroke="#e3a0ff" stroke-width="0.98"/>
<path d="M502.5,428.3L521.9,455.7" stroke="#e3a0ff" stroke-width="0.99"/>
<path d="M521.9,455.7L541.3,484.3" stroke="#e3a0ff" stroke-width="1.00"/>
<path d="M541.3,484.3L556.1,504.5" stroke="#e3a0ff" stroke-width="1.01"/>
<path d="M556.1,504.5L562.8,512.5" stroke="#e3a0ff" stroke-width="1.01"/>
<path d="M562.8,512.5L570.0,522.6" stroke="#e3a0ff" stroke-width="1.02"/>
<path d="M570.0,522.6L582.2,540.6" stroke="#e3a0ff" stroke-width="1.02"/>
<path d="M582.2,540.6L601.8,556.6" stroke="#e3a0ff" stroke-width="1.03"/>
<path d="M601.8,556.6L620.5,566.9" stroke="#e3a0ff" stroke-width="1.04"/>
<path d="M620.5,566.9L640.9,568.5" stroke="#e3a0ff" stroke-width="1.05"/>
<path d="M640.9,568.5L659.4,570.0" stroke="#e3a0ff" stroke-width="1.05"/>
<path d="M659.4,570.0L679.4,582.3" stroke="#e3a0ff" stroke-width="1.06"/>
<path d="M679.4,582.3L698.3,585.4" stroke="#e3a0ff" stroke-width="1.07"/>
<path d="M698.3,585.4L717.5,590.6" stroke="#e3a0ff" stroke-width="1.08"/>
<path d="M717.5,590.6L735.4,600.9" stroke="#e3a0ff" stroke-width="1.09"/>
<path d="M72.7,817.4L93.3,781.3" stroke="#b040f8" stroke-width="0.90"/>
<path d="M93.3,781.3L104.1,760.0" stroke="#b040f8" stroke-width="0.90"/>
<path d="M104.1,760.0L112.0,741.1" stroke="#b040f8" stroke-width="0.90"/>
<path d="M112.0,741.1L131.7,733.7" stroke="#b040f8" stroke-width="0.90"/>
<path d="M131.7,733.7L152.3,714.3" stroke="#b040f8" stroke-width="0.90"/>
<path d="M152.3,714.3L170.0,690.3" stroke="#b040f8" stroke-width="0.91"/>
<path d="M170.0,690.3L180.0,688.6" stroke="#b040f8" stroke-width="0.91"/>
<path d="M180.0,688.6L191.6,686.9" stroke="#b040f8" stroke-width="0.92"/>
<path d="M191.6,686.9L205.0,676.9" stroke="#b040f8" stroke-width="0.92"/>
<path d="M205.0,676.9L210.3,673.1" stroke="#b040f8" stroke-width="0.93"/>
<path d="M210.3,673.1L229.9,662.4" stroke="#b040f8" stroke-width="0.93"/>
<path d="M229.9,662.4L250.1,638.6" stroke="#b040f8" stroke-width="0.94"/>
<path d="M250.1,638.6L269.5,623.5" stroke="#b040f8" stroke-width="0.95"/>
<path d="M269.5,623.5L288.9,612.9" stroke="#b040f8" stroke-width="0.96"/>
<path d="M288.9,612.9L295.0,608.6" stroke="#b040f8" stroke-width="0.97"/>
<path d="M295.0,608.6L307.6,597.1" stroke="#b040f8" stroke-width="0.97"/>
<path d="M307.6,597.1L327.8,590.1" stroke="#b040f8" stroke-width="0.98"/>
<path d="M327.8,590.1L347.2,609.7" stroke="#b040f8" stroke-width="0.99"/>
<path d="M347.2,609.7L366.5,576.6" stroke="#b040f8" stroke-width="1.00"/>
<path d="M366.5,576.6L386.0,561.7" stroke="#b040f8" stroke-width="1.01"/>
<path d="M386.0,561.7L405.6,544.0" stroke="#b040f8" stroke-width="1.02"/>
<path d="M405.6,544.0L424.1,530.6" stroke="#b040f8" stroke-width="1.03"/>
<path d="M424.1,530.6L444.7,537.8" stroke="#b040f8" stroke-width="1.04"/>
<path d="M444.7,537.8L462.2,512.5" stroke="#b040f8" stroke-width="1.05"/>
<path d="M462.2,512.5L483.0,540.3" stroke="#b040f8" stroke-width="1.06"/>
<path d="M483.0,540.3L503.0,542.3" stroke="#b040f8" stroke-width="1.07"/>
<path d="M503.0,542.3L525.0,565.6" stroke="#b040f8" stroke-width="1.08"/>
<path d="M525.0,565.6L542.5,603.7" stroke="#b040f8" stroke-width="1.09"/>
<path d="M542.5,603.7L561.0,660.1" stroke="#b040f8" stroke-width="1.09"/>
<path d="M561.0,660.1L601.2,697.6" stroke="#b040f8" stroke-width="1.11"/>
<path d="M601.2,697.6L621.1,691.4" stroke="#b040f8" stroke-width="1.12"/>
<path d="M621.1,691.4L640.3,697.2" stroke="#b040f8" stroke-width="1.13"/>
<path d="M640.3,697.2L659.4,699.3" stroke="#b040f8" stroke-width="1.14"/>
<path d="M659.4,699.3L679.4,717.8" stroke="#b040f8" stroke-width="1.15"/>
<path d="M679.4,717.8L698.3,722.9" stroke="#b040f8" stroke-width="1.16"/>
<path d="M698.3,722.9L717.5,726.0" stroke="#b040f8" stroke-width="1.17"/>
<path d="M717.5,726.0L735.4,739.0" stroke="#b040f8" stroke-width="1.18"/>
<path d="M170.6,683.4L180.0,677.1" stroke="#a21cf8" stroke-width="1.12"/>
<path d="M180.0,677.1L191.1,667.4" stroke="#a21cf8" stroke-width="1.13"/>
<path d="M191.1,667.4L205.0,660.3" stroke="#a21cf8" stroke-width="1.14"/>
<path d="M205.0,660.3L211.4,656.0" stroke="#a21cf8" stroke-width="1.14"/>
<path d="M211.4,656.0L230.5,646.3" stroke="#a21cf8" stroke-width="1.15"/>
<path d="M230.5,646.3L249.6,638.6" stroke="#a21cf8" stroke-width="1.16"/>
<path d="M249.6,638.6L269.5,618.8" stroke="#a21cf8" stroke-width="1.17"/>
<path d="M269.5,618.8L288.9,609.1" stroke="#a21cf8" stroke-width="1.18"/>
<path d="M288.9,609.1L307.8,565.0" stroke="#a21cf8" stroke-width="1.20"/>
<path d="M307.8,565.0L327.7,551.8" stroke="#a21cf8" stroke-width="1.21"/>
<path d="M327.7,551.8L345.9,517.2" stroke="#a21cf8" stroke-width="1.22"/>
<path d="M345.9,517.2L365.8,506.3" stroke="#a21cf8" stroke-width="1.23"/>
<path d="M365.8,506.3L386.7,510.5" stroke="#a21cf8" stroke-width="1.24"/>
<path d="M386.7,510.5L405.6,531.0" stroke="#a21cf8" stroke-width="1.25"/>
<path d="M405.6,531.0L424.1,524.4" stroke="#a21cf8" stroke-width="1.27"/>
<path d="M424.1,524.4L443.7,521.3" stroke="#a21cf8" stroke-width="1.28"/>
<path d="M443.7,521.3L463.6,530.6" stroke="#a21cf8" stroke-width="1.29"/>
<path d="M463.6,530.6L483.0,542.9" stroke="#a21cf8" stroke-width="1.30"/>
<path d="M483.0,542.9L503.4,549.1" stroke="#a21cf8" stroke-width="1.31"/>
<path d="M503.4,549.1L524.0,567.6" stroke="#a21cf8" stroke-width="1.32"/>
<path d="M524.0,567.6L541.4,592.3" stroke="#a21cf8" stroke-width="1.34"/>
<path d="M541.4,592.3L560.6,611.3" stroke="#a21cf8" stroke-width="1.35"/>
<path d="M560.6,611.3L580.6,633.8" stroke="#a21cf8" stroke-width="1.36"/>
<path d="M580.6,633.8L601.2,640.0" stroke="#a21cf8" stroke-width="1.37"/>
<path d="M601.2,640.0L619.7,647.2" stroke="#a21cf8" stroke-width="1.38"/>
<path d="M619.7,647.2L639.3,654.8" stroke="#a21cf8" stroke-width="1.39"/>
<path d="M639.3,654.8L658.8,651.9" stroke="#a21cf8" stroke-width="1.40"/>
<path d="M658.8,651.9L679.4,665.7" stroke="#a21cf8" stroke-width="1.42"/>
<path d="M679.4,665.7L698.3,675.0" stroke="#a21cf8" stroke-width="1.43"/>
<path d="M698.3,675.0L717.5,683.2" stroke="#a21cf8" stroke-width="1.44"/>
<path d="M717.5,683.2L735.4,697.2" stroke="#a21cf8" stroke-width="1.45"/>
<path d="M192.6,635.1L205.0,629.4" stroke="#b3d4a6" stroke-width="0.90"/>
<path d="M205.0,629.4L212.4,625.4" stroke="#b3d4a6" stroke-width="0.90"/>
<path d="M212.4,625.4L230.6,626.9" stroke="#b3d4a6" stroke-width="0.90"/>
<path d="M230.6,626.9L249.6,610.0" stroke="#b3d4a6" stroke-width="0.90"/>
<path d="M249.6,610.0L269.1,597.2" stroke="#b3d4a6" stroke-width="0.90"/>
<path d="M269.1,597.2L288.8,560.4" stroke="#b3d4a6" stroke-width="0.90"/>
<path d="M288.8,560.4L308.2,527.5" stroke="#b3d4a6" stroke-width="0.90"/>
<path d="M308.2,527.5L329.4,497.6" stroke="#b3d4a6" stroke-width="0.90"/>
<path d="M329.4,497.6L350.0,483.8" stroke="#b3d4a6" stroke-width="0.90"/>
<path d="M350.0,483.8L358.2,468.0" stroke="#b3d4a6" stroke-width="0.90"/>
<path d="M358.2,468.0L367.5,450.8" stroke="#b3d4a6" stroke-width="0.90"/>
<path d="M367.5,450.8L386.0,452.6" stroke="#b3d4a6" stroke-width="0.90"/>
<path d="M386.0,452.6L406.4,448.7" stroke="#b3d4a6" stroke-width="0.90"/>
<path d="M406.4,448.7L430.3,467.7" stroke="#b3d4a6" stroke-width="0.90"/>
<path d="M430.3,467.7L447.8,468.2" stroke="#b3d4a6" stroke-width="0.90"/>
<path d="M447.8,468.2L465.5,461.7" stroke="#b3d4a6" stroke-width="0.90"/>
<path d="M465.5,461.7L475.0,468.1" stroke="#b3d4a6" stroke-width="0.90"/>
<path d="M475.0,468.1L483.5,477.0" stroke="#b3d4a6" stroke-width="0.90"/>
<path d="M483.5,477.0L503.0,486.9" stroke="#b3d4a6" stroke-width="0.90"/>
<path d="M503.0,486.9L523.3,511.1" stroke="#b3d4a6" stroke-width="0.91"/>
<path d="M523.3,511.1L543.6,526.2" stroke="#b3d4a6" stroke-width="0.92"/>
<path d="M543.6,526.2L562.4,567.6" stroke="#b3d4a6" stroke-width="0.93"/>
<path d="M562.4,567.6L603.2,599.4" stroke="#b3d4a6" stroke-width="0.94"/>
<path d="M603.2,599.4L621.8,595.1" stroke="#b3d4a6" stroke-width="0.95"/>
<path d="M621.8,595.1L642.3,601.3" stroke="#b3d4a6" stroke-width="0.96"/>
<path d="M642.3,601.3L660.9,620.4" stroke="#b3d4a6" stroke-width="0.97"/>
<path d="M660.9,620.4L681.5,615.3" stroke="#b3d4a6" stroke-width="0.97"/>
<path d="M681.5,615.3L701.0,613.2" stroke="#b3d4a6" stroke-width="0.98"/>
<path d="M701.0,613.2L722.6,622.5" stroke="#b3d4a6" stroke-width="0.99"/>
<path d="M722.6,622.5L735.4,631.3" stroke="#b3d4a6" stroke-width="1.00"/>
<path d="M36.7,803.8L55.8,782.5" stroke="#a6cc9a" stroke-width="0.90"/>
<path d="M55.8,782.5L72.3,751.4" stroke="#a6cc9a" stroke-width="0.90"/>
<path d="M72.3,751.4L91.7,724.6" stroke="#a6cc9a" stroke-width="0.90"/>
<path d="M91.7,724.6L112.3,705.7" stroke="#a6cc9a" stroke-width="0.90"/>
<path d="M112.3,705.7L132.6,680.1" stroke="#a6cc9a" stroke-width="0.90"/>
<path d="M132.6,680.1L153.5,685.4" stroke="#a6cc9a" stroke-width="0.90"/>
<path d="M153.5,685.4L166.4,639.0" stroke="#a6cc9a" stroke-width="0.90"/>
<path d="M166.4,639.0L172.4,619.0" stroke="#a6cc9a" stroke-width="0.90"/>
<path d="M172.4,619.0L190.6,571.3" stroke="#a6cc9a" stroke-width="0.90"/>
<path d="M190.6,571.3L210.0,578.0" stroke="#a6cc9a" stroke-width="0.90"/>
<path d="M210.0,578.0L230.6,542.3" stroke="#a6cc9a" stroke-width="0.90"/>
<path d="M230.6,542.3L250.1,522.3" stroke="#a6cc9a" stroke-width="0.90"/>
<path d="M250.1,522.3L269.5,503.8" stroke="#a6cc9a" stroke-width="0.90"/>
<path d="M269.5,503.8L288.8,491.1" stroke="#a6cc9a" stroke-width="0.90"/>
<path d="M288.8,491.1L308.2,480.1" stroke="#a6cc9a" stroke-width="0.90"/>
<path d="M308.2,480.1L321.2,468.0" stroke="#a6cc9a" stroke-width="0.90"/>
<path d="M321.2,468.0L332.0,457.2" stroke="#a6cc9a" stroke-width="0.90"/>
<path d="M332.0,457.2L347.1,422.9" stroke="#a6cc9a" stroke-width="0.90"/>
<path d="M347.1,422.9L366.4,401.9" stroke="#a6cc9a" stroke-width="0.90"/>
<path d="M366.4,401.9L386.0,401.0" stroke="#a6cc9a" stroke-width="0.90"/>
<path d="M386.0,401.0L406.1,383.2" stroke="#a6cc9a" stroke-width="0.90"/>
<path d="M406.1,383.2L424.8,393.1" stroke="#a6cc9a" stroke-width="0.90"/>
<path d="M424.8,393.1L444.3,378.3" stroke="#a6cc9a" stroke-width="0.90"/>
<path d="M444.3,378.3L463.7,410.4" stroke="#a6cc9a" stroke-width="0.90"/>
<path d="M463.7,410.4L470.0,414.6" stroke="#a6cc9a" stroke-width="0.90"/>
<path d="M470.0,414.6L475.0,418.2" stroke="#a6cc9a" stroke-width="0.90"/>
<path d="M475.0,418.2L483.1,423.7" stroke="#a6cc9a" stroke-width="0.90"/>
<path d="M483.1,423.7L502.5,434.6" stroke="#a6cc9a" stroke-width="0.90"/>
<path d="M502.5,434.6L521.9,467.1" stroke="#a6cc9a" stroke-width="0.91"/>
<path d="M521.9,467.1L537.4,492.3" stroke="#a6cc9a" stroke-width="0.92"/>
<path d="M537.4,492.3L562.8,520.4" stroke="#a6cc9a" stroke-width="0.93"/>
<path d="M562.8,520.4L582.2,545.7" stroke="#a6cc9a" stroke-width="0.93"/>
<path d="M582.2,545.7L601.8,574.3" stroke="#a6cc9a" stroke-width="0.94"/>
<path d="M601.8,574.3L621.1,576.2" stroke="#a6cc9a" stroke-width="0.95"/>
<path d="M621.1,576.2L640.9,569.6" stroke="#a6cc9a" stroke-width="0.96"/>
<path d="M640.9,569.6L659.4,578.2" stroke="#a6cc9a" stroke-width="0.97"/>
<path d="M659.4,578.2L681.5,588.5" stroke="#a6cc9a" stroke-width="0.97"/>
<path d="M681.5,588.5L702.0,595.7" stroke="#a6cc9a" stroke-width="0.98"/>
<path d="M702.0,595.7L722.6,601.3" stroke="#a6cc9a" stroke-width="0.99"/>
<path d="M722.6,601.3L735.4,611.8" stroke="#a6cc9a" stroke-width="1.00"/>
<path d="M36.6,804.6L54.0,791.1" stroke="#6aa566" stroke-width="0.90"/>
<path d="M92.8,716.3L112.3,659.7" stroke="#6aa566" stroke-width="0.90"/>
<path d="M112.3,659.7L132.3,623.8" stroke="#6aa566" stroke-width="0.90"/>
<path d="M132.3,623.8L150.4,604.3" stroke="#6aa566" stroke-width="0.90"/>
<path d="M150.4,604.3L172.0,563.7" stroke="#6aa566" stroke-width="0.90"/>
<path d="M172.0,563.7L191.6,561.0" stroke="#6aa566" stroke-width="0.90"/>
<path d="M191.6,561.0L210.0,527.3" stroke="#6aa566" stroke-width="0.90"/>
<path d="M210.0,527.3L230.6,516.6" stroke="#6aa566" stroke-width="0.90"/>
<path d="M230.6,516.6L249.1,505.5" stroke="#6aa566" stroke-width="0.90"/>
<path d="M249.1,505.5L267.6,492.5" stroke="#6aa566" stroke-width="0.90"/>
<path d="M267.6,492.5L288.2,493.9" stroke="#6aa566" stroke-width="0.90"/>
<path d="M288.2,493.9L296.5,468.0" stroke="#6aa566" stroke-width="0.90"/>
<path d="M296.5,468.0L308.2,427.0" stroke="#6aa566" stroke-width="0.90"/>
<path d="M308.2,427.0L327.7,402.3" stroke="#6aa566" stroke-width="0.90"/>
<path d="M327.7,402.3L347.1,333.4" stroke="#6aa566" stroke-width="0.90"/>
<path d="M347.1,333.4L364.4,359.1" stroke="#6aa566" stroke-width="0.90"/>
<path d="M364.4,359.1L385.0,361.2" stroke="#6aa566" stroke-width="0.90"/>
<path d="M385.0,361.2L405.4,337.6" stroke="#6aa566" stroke-width="0.90"/>
<path d="M405.4,337.6L424.1,366.7" stroke="#6aa566" stroke-width="0.90"/>
<path d="M424.1,366.7L444.2,378.3" stroke="#6aa566" stroke-width="0.90"/>
<path d="M444.2,378.3L463.7,398.7" stroke="#6aa566" stroke-width="0.90"/>
<path d="M463.7,398.7L474.8,410.2" stroke="#6aa566" stroke-width="0.90"/>
<path d="M474.8,410.2L483.1,418.0" stroke="#6aa566" stroke-width="0.90"/>
<path d="M483.1,418.0L502.5,428.3" stroke="#6aa566" stroke-width="0.90"/>
<path d="M502.5,428.3L521.9,456.9" stroke="#6aa566" stroke-width="0.91"/>
<path d="M521.9,456.9L541.3,487.7" stroke="#6aa566" stroke-width="0.92"/>
<path d="M541.3,487.7L556.1,511.3" stroke="#6aa566" stroke-width="0.92"/>
<path d="M556.1,511.3L561.0,519.7" stroke="#6aa566" stroke-width="0.93"/>
<path d="M561.0,519.7L570.0,526.0" stroke="#6aa566" stroke-width="0.93"/>
<path d="M570.0,526.0L582.2,534.2" stroke="#6aa566" stroke-width="0.94"/>
<path d="M582.2,534.2L601.2,556.0" stroke="#6aa566" stroke-width="0.94"/>
<path d="M601.2,556.0L619.9,567.3" stroke="#6aa566" stroke-width="0.95"/>
<path d="M619.9,567.3L640.9,569.2" stroke="#6aa566" stroke-width="0.96"/>
<path d="M640.9,569.2L659.4,563.4" stroke="#6aa566" stroke-width="0.97"/>
<path d="M659.4,563.4L679.4,564.8" stroke="#6aa566" stroke-width="0.97"/>
<path d="M679.4,564.8L697.9,566.3" stroke="#6aa566" stroke-width="0.98"/>
<path d="M697.9,566.3L717.5,584.8" stroke="#6aa566" stroke-width="0.99"/>
<path d="M717.5,584.8L735.4,596.8" stroke="#6aa566" stroke-width="1.00"/>
<path d="M36.8,870.1L54.3,848.5" stroke="#4f974f" stroke-width="0.90"/>
<path d="M54.3,848.5L74.3,829.0" stroke="#4f974f" stroke-width="0.90"/>
<path d="M74.3,829.0L81.4,821.0" stroke="#4f974f" stroke-width="0.90"/>
<path d="M81.4,821.0L93.3,801.3" stroke="#4f974f" stroke-width="0.90"/>
<path d="M93.3,801.3L111.5,780.6" stroke="#4f974f" stroke-width="0.90"/>
<path d="M111.5,780.6L130.5,760.7" stroke="#4f974f" stroke-width="0.90"/>
<path d="M130.5,760.7L152.3,744.6" stroke="#4f974f" stroke-width="0.90"/>
<path d="M152.3,744.6L171.1,699.4" stroke="#4f974f" stroke-width="0.90"/>
<path d="M171.1,699.4L191.1,678.3" stroke="#4f974f" stroke-width="0.90"/>
<path d="M230.7,666.6L250.1,638.6" stroke="#4f974f" stroke-width="0.90"/>
<path d="M250.1,638.6L269.5,618.6" stroke="#4f974f" stroke-width="0.90"/>
<path d="M269.5,618.6L288.9,607.7" stroke="#4f974f" stroke-width="0.90"/>
<path d="M288.9,607.7L295.0,602.9" stroke="#4f974f" stroke-width="0.90"/>
<path d="M295.0,602.9L308.3,593.7" stroke="#4f974f" stroke-width="0.90"/>
<path d="M308.3,593.7L327.8,577.1" stroke="#4f974f" stroke-width="0.91"/>
<path d="M327.8,577.1L345.6,562.7" stroke="#4f974f" stroke-width="0.91"/>
<path d="M345.6,562.7L355.0,540.0" stroke="#4f974f" stroke-width="0.92"/>
<path d="M355.0,540.0L366.4,508.5" stroke="#4f974f" stroke-width="0.92"/>
<path d="M366.4,508.5L385.6,520.9" stroke="#4f974f" stroke-width="0.93"/>
<path d="M385.6,520.9L406.6,489.0" stroke="#4f974f" stroke-width="0.94"/>
<path d="M406.6,489.0L426.2,485.7" stroke="#4f974f" stroke-width="0.95"/>
<path d="M426.2,485.7L443.7,485.7" stroke="#4f974f" stroke-width="0.96"/>
<path d="M443.7,485.7L463.2,495.6" stroke="#4f974f" stroke-width="0.97"/>
<path d="M463.2,495.6L483.0,525.0" stroke="#4f974f" stroke-width="0.97"/>
<path d="M483.0,525.0L503.4,534.3" stroke="#4f974f" stroke-width="0.98"/>
<path d="M503.4,534.3L525.0,565.6" stroke="#4f974f" stroke-width="0.99"/>
<path d="M525.0,565.6L541.4,592.3" stroke="#4f974f" stroke-width="1.00"/>
<path d="M541.4,592.3L560.6,607.8" stroke="#4f974f" stroke-width="1.01"/>
<path d="M560.6,607.8L581.6,630.7" stroke="#4f974f" stroke-width="1.02"/>
<path d="M581.6,630.7L603.2,640.0" stroke="#4f974f" stroke-width="1.03"/>
<path d="M603.2,640.0L620.7,641.0" stroke="#4f974f" stroke-width="1.04"/>
<path d="M620.7,641.0L640.3,647.6" stroke="#4f974f" stroke-width="1.04"/>
<path d="M640.3,647.6L660.9,656.9" stroke="#4f974f" stroke-width="1.05"/>
<path d="M660.9,656.9L679.4,671.9" stroke="#4f974f" stroke-width="1.06"/>
<path d="M679.4,671.9L698.3,672.5" stroke="#4f974f" stroke-width="1.07"/>
<path d="M698.3,672.5L717.5,679.5" stroke="#4f974f" stroke-width="1.08"/>
<path d="M717.5,679.5L735.4,689.0" stroke="#4f974f" stroke-width="1.09"/>
<path d="M36.8,870.1L54.3,850.6" stroke="#0c6a0c" stroke-width="1.11"/>
<path d="M54.3,850.6L74.3,825.9" stroke="#0c6a0c" stroke-width="1.12"/>
<path d="M74.3,825.9L80.3,821.0" stroke="#0c6a0c" stroke-width="1.13"/>
<path d="M80.3,821.0L96.1,809.3" stroke="#0c6a0c" stroke-width="1.14"/>
<path d="M96.1,809.3L112.0,743.4" stroke="#0c6a0c" stroke-width="1.15"/>
<path d="M112.0,743.4L131.7,750.3" stroke="#0c6a0c" stroke-width="1.16"/>
<path d="M131.7,750.3L152.3,715.4" stroke="#0c6a0c" stroke-width="1.17"/>
<path d="M152.3,715.4L169.4,678.3" stroke="#0c6a0c" stroke-width="1.18"/>
<path d="M169.4,678.3L180.0,669.1" stroke="#0c6a0c" stroke-width="1.19"/>
<path d="M180.0,669.1L188.7,662.0" stroke="#0c6a0c" stroke-width="1.20"/>
<path d="M188.7,662.0L207.2,639.1" stroke="#0c6a0c" stroke-width="1.21"/>
<path d="M207.2,639.1L211.3,634.6" stroke="#0c6a0c" stroke-width="1.21"/>
<path d="M211.3,634.6L229.6,630.3" stroke="#0c6a0c" stroke-width="1.22"/>
<path d="M229.6,630.3L248.7,604.8" stroke="#0c6a0c" stroke-width="1.23"/>
<path d="M248.7,604.8L268.7,600.6" stroke="#0c6a0c" stroke-width="1.25"/>
<path d="M268.7,600.6L288.2,561.5" stroke="#0c6a0c" stroke-width="1.26"/>
<path d="M288.2,561.5L308.2,536.8" stroke="#0c6a0c" stroke-width="1.27"/>
<path d="M308.2,536.8L327.7,519.3" stroke="#0c6a0c" stroke-width="1.28"/>
<path d="M327.7,519.3L346.5,501.8" stroke="#0c6a0c" stroke-width="1.30"/>
<path d="M346.5,501.8L365.8,481.2" stroke="#0c6a0c" stroke-width="1.31"/>
<path d="M365.8,481.2L375.7,468.0" stroke="#0c6a0c" stroke-width="1.32"/>
<path d="M375.7,468.0L386.0,456.8" stroke="#0c6a0c" stroke-width="1.32"/>
<path d="M386.0,456.8L404.8,451.2" stroke="#0c6a0c" stroke-width="1.33"/>
<path d="M404.8,451.2L424.4,451.4" stroke="#0c6a0c" stroke-width="1.34"/>
<path d="M424.4,451.4L442.9,441.5" stroke="#0c6a0c" stroke-width="1.36"/>
<path d="M442.9,441.5L463.7,450.4" stroke="#0c6a0c" stroke-width="1.37"/>
<path d="M463.7,450.4L470.0,457.4" stroke="#0c6a0c" stroke-width="1.38"/>
<path d="M470.0,457.4L475.0,462.4" stroke="#0c6a0c" stroke-width="1.38"/>
<path d="M475.0,462.4L483.1,471.2" stroke="#0c6a0c" stroke-width="1.38"/>
<path d="M483.1,471.2L503.0,480.6" stroke="#0c6a0c" stroke-width="1.39"/>
<path d="M503.0,480.6L521.9,512.9" stroke="#0c6a0c" stroke-width="1.41"/>
<path d="M521.9,512.9L532.3,531.0" stroke="#0c6a0c" stroke-width="1.42"/>
<path d="M532.3,531.0L541.2,546.0" stroke="#0c6a0c" stroke-width="1.42"/>
<path d="M541.2,546.0L560.6,571.7" stroke="#0c6a0c" stroke-width="1.43"/>
<path d="M560.6,571.7L581.6,580.3" stroke="#0c6a0c" stroke-width="1.44"/>
<path d="M581.6,580.3L601.2,592.0" stroke="#0c6a0c" stroke-width="1.46"/>
<path d="M601.2,592.0L619.7,608.5" stroke="#0c6a0c" stroke-width="1.47"/>
<path d="M619.7,608.5L640.3,614.7" stroke="#0c6a0c" stroke-width="1.48"/>
<path d="M640.3,614.7L659.4,626.2" stroke="#0c6a0c" stroke-width="1.49"/>
<path d="M659.4,626.2L679.4,645.3" stroke="#0c6a0c" stroke-width="1.50"/>
<path d="M679.4,645.3L698.3,643.1" stroke="#0c6a0c" stroke-width="1.52"/>
<path d="M698.3,643.1L717.5,648.2" stroke="#0c6a0c" stroke-width="1.53"/>
<path d="M717.5,648.2L735.4,661.2" stroke="#0c6a0c" stroke-width="1.54"/>
<path d="M36.8,886.6L54.3,863.3" stroke="#ffab55" stroke-width="0.90"/>
<path d="M54.3,863.3L73.6,859.2" stroke="#ffab55" stroke-width="0.90"/>
<path d="M73.6,859.2L91.8,821.8" stroke="#ffab55" stroke-width="0.90"/>
<path d="M91.8,821.8L111.7,792.9" stroke="#ffab55" stroke-width="0.90"/>
<path d="M111.7,792.9L133.0,762.6" stroke="#ffab55" stroke-width="0.90"/>
<path d="M133.0,762.6L152.3,735.4" stroke="#ffab55" stroke-width="0.90"/>
<path d="M152.3,735.4L170.6,727.4" stroke="#ffab55" stroke-width="0.90"/>
<path d="M170.6,727.4L180.0,712.0" stroke="#ffab55" stroke-width="0.90"/>
<path d="M180.0,712.0L190.1,695.1" stroke="#ffab55" stroke-width="0.90"/>
<path d="M190.1,695.1L205.0,678.0" stroke="#ffab55" stroke-width="0.90"/>
<path d="M205.0,678.0L210.5,673.9" stroke="#ffab55" stroke-width="0.90"/>
<path d="M210.5,673.9L230.2,667.0" stroke="#ffab55" stroke-width="0.90"/>
<path d="M230.2,667.0L250.1,647.0" stroke="#ffab55" stroke-width="0.90"/>
<path d="M250.1,647.0L258.9,640.0" stroke="#ffab55" stroke-width="0.90"/>
<path d="M258.9,640.0L269.5,632.3" stroke="#ffab55" stroke-width="0.90"/>
<path d="M269.5,632.3L294.9,626.6" stroke="#ffab55" stroke-width="0.90"/>
<path d="M294.9,626.6L307.6,623.4" stroke="#ffab55" stroke-width="0.90"/>
<path d="M307.6,623.4L327.8,599.4" stroke="#ffab55" stroke-width="0.90"/>
<path d="M327.8,599.4L347.2,574.3" stroke="#ffab55" stroke-width="0.90"/>
<path d="M347.2,574.3L364.7,563.4" stroke="#ffab55" stroke-width="0.90"/>
<path d="M364.7,563.4L386.0,563.4" stroke="#ffab55" stroke-width="0.90"/>
<path d="M386.0,563.4L405.6,546.4" stroke="#ffab55" stroke-width="0.90"/>
<path d="M405.6,546.4L425.1,542.9" stroke="#ffab55" stroke-width="0.90"/>
<path d="M425.1,542.9L444.7,537.8" stroke="#ffab55" stroke-width="0.90"/>
<path d="M444.7,537.8L463.2,562.9" stroke="#ffab55" stroke-width="0.90"/>
<path d="M463.2,562.9L483.0,567.0" stroke="#ffab55" stroke-width="0.90"/>
<path d="M483.0,567.0L503.0,570.7" stroke="#ffab55" stroke-width="0.90"/>
<path d="M503.0,570.7L520.9,601.6" stroke="#ffab55" stroke-width="0.91"/>
<path d="M520.9,601.6L542.5,621.2" stroke="#ffab55" stroke-width="0.92"/>
<path d="M542.5,621.2L560.0,654.1" stroke="#ffab55" stroke-width="0.93"/>
<path d="M560.0,654.1L580.6,675.2" stroke="#ffab55" stroke-width="0.93"/>
<path d="M580.6,675.2L601.2,686.3" stroke="#ffab55" stroke-width="0.94"/>
<path d="M601.2,686.3L620.7,689.6" stroke="#ffab55" stroke-width="0.95"/>
<path d="M620.7,689.6L640.3,697.2" stroke="#ffab55" stroke-width="0.96"/>
<path d="M640.3,697.2L659.4,706.0" stroke="#ffab55" stroke-width="0.97"/>
<path d="M659.4,706.0L679.4,714.7" stroke="#ffab55" stroke-width="0.97"/>
<path d="M679.4,714.7L699.4,720.9" stroke="#ffab55" stroke-width="0.98"/>
<path d="M699.4,720.9L717.5,722.9" stroke="#ffab55" stroke-width="0.99"/>
<path d="M717.5,722.9L735.4,729.7" stroke="#ffab55" stroke-width="1.00"/>
<path d="M72.8,786.2L80.4,760.0" stroke="#ffa64d" stroke-width="0.90"/>
<path d="M80.4,760.0L91.7,723.4" stroke="#ffa64d" stroke-width="0.90"/>
<path d="M91.7,723.4L112.3,703.4" stroke="#ffa64d" stroke-width="0.90"/>
<path d="M112.3,703.4L133.7,674.3" stroke="#ffa64d" stroke-width="0.90"/>
<path d="M133.7,674.3L150.6,649.1" stroke="#ffa64d" stroke-width="0.90"/>
<path d="M150.6,649.1L168.0,639.0" stroke="#ffa64d" stroke-width="0.90"/>
<path d="M168.0,639.0L190.6,606.3" stroke="#ffa64d" stroke-width="0.90"/>
<path d="M190.6,606.3L208.8,595.1" stroke="#ffa64d" stroke-width="0.90"/>
<path d="M208.8,595.1L229.6,595.3" stroke="#ffa64d" stroke-width="0.90"/>
<path d="M229.6,595.3L249.1,581.2" stroke="#ffa64d" stroke-width="0.90"/>
<path d="M249.1,581.2L257.0,570.0" stroke="#ffa64d" stroke-width="0.90"/>
<path d="M257.0,570.0L269.5,547.0" stroke="#ffa64d" stroke-width="0.90"/>
<path d="M269.5,547.0L288.8,527.5" stroke="#ffa64d" stroke-width="0.90"/>
<path d="M288.8,527.5L308.2,501.8" stroke="#ffa64d" stroke-width="0.90"/>
<path d="M308.2,501.8L326.7,467.8" stroke="#ffa64d" stroke-width="0.91"/>
<path d="M326.7,467.8L347.1,447.6" stroke="#ffa64d" stroke-width="0.91"/>
<path d="M347.1,447.6L365.4,422.5" stroke="#ffa64d" stroke-width="0.92"/>
<path d="M365.4,422.5L384.6,428.1" stroke="#ffa64d" stroke-width="0.93"/>
<path d="M384.6,428.1L404.2,398.6" stroke="#ffa64d" stroke-width="0.94"/>
<path d="M404.2,398.6L424.3,396.2" stroke="#ffa64d" stroke-width="0.95"/>
<path d="M424.3,396.2L443.9,408.4" stroke="#ffa64d" stroke-width="0.96"/>
<path d="M443.9,408.4L463.7,417.6" stroke="#ffa64d" stroke-width="0.97"/>
<path d="M463.7,417.6L470.0,424.3" stroke="#ffa64d" stroke-width="0.97"/>
<path d="M470.0,424.3L475.0,430.0" stroke="#ffa64d" stroke-width="0.97"/>
<path d="M475.0,430.0L483.1,438.6" stroke="#ffa64d" stroke-width="0.98"/>
<path d="M483.1,438.6L502.5,446.6" stroke="#ffa64d" stroke-width="0.98"/>
<path d="M502.5,446.6L521.9,475.1" stroke="#ffa64d" stroke-width="0.99"/>
<path d="M521.9,475.1L541.3,502.6" stroke="#ffa64d" stroke-width="1.00"/>
<path d="M541.3,502.6L556.1,523.5" stroke="#ffa64d" stroke-width="1.01"/>
<path d="M556.1,523.5L561.2,530.3" stroke="#ffa64d" stroke-width="1.01"/>
<path d="M561.2,530.3L581.6,547.3" stroke="#ffa64d" stroke-width="1.02"/>
<path d="M581.6,547.3L599.9,565.7" stroke="#ffa64d" stroke-width="1.03"/>
<path d="M599.9,565.7L621.1,573.7" stroke="#ffa64d" stroke-width="1.04"/>
<path d="M621.1,573.7L641.1,570.0" stroke="#ffa64d" stroke-width="1.05"/>
<path d="M641.1,570.0L659.4,591.6" stroke="#ffa64d" stroke-width="1.05"/>
<path d="M659.4,591.6L679.4,600.9" stroke="#ffa64d" stroke-width="1.06"/>
<path d="M679.4,600.9L698.3,602.9" stroke="#ffa64d" stroke-width="1.07"/>
<path d="M698.3,602.9L717.5,613.2" stroke="#ffa64d" stroke-width="1.08"/>
<path d="M717.5,613.2L735.4,628.7" stroke="#ffa64d" stroke-width="1.09"/>
<path d="M36.8,871.2L54.3,856.3" stroke="#ff8c14" stroke-width="0.98"/>
<path d="M54.3,856.3L73.6,833.1" stroke="#ff8c14" stroke-width="0.99"/>
<path d="M73.6,833.1L93.3,791.2" stroke="#ff8c14" stroke-width="1.00"/>
<path d="M93.3,791.2L111.7,756.7" stroke="#ff8c14" stroke-width="1.01"/>
<path d="M111.7,756.7L132.3,754.3" stroke="#ff8c14" stroke-width="1.02"/>
<path d="M132.3,754.3L152.3,731.4" stroke="#ff8c14" stroke-width="1.03"/>
<path d="M152.3,731.4L172.4,707.4" stroke="#ff8c14" stroke-width="1.05"/>
<path d="M172.4,707.4L180.0,698.9" stroke="#ff8c14" stroke-width="1.05"/>
<path d="M180.0,698.9L191.1,688.0" stroke="#ff8c14" stroke-width="1.06"/>
<path d="M191.1,688.0L205.0,684.3" stroke="#ff8c14" stroke-width="1.07"/>
<path d="M205.0,684.3L211.4,682.3" stroke="#ff8c14" stroke-width="1.07"/>
<path d="M211.4,682.3L229.1,677.3" stroke="#ff8c14" stroke-width="1.08"/>
<path d="M229.1,677.3L249.4,650.4" stroke="#ff8c14" stroke-width="1.09"/>
<path d="M249.4,650.4L260.0,640.0" stroke="#ff8c14" stroke-width="1.10"/>
<path d="M260.0,640.0L269.5,631.7" stroke="#ff8c14" stroke-width="1.10"/>
<path d="M269.5,631.7L288.9,610.0" stroke="#ff8c14" stroke-width="1.11"/>
<path d="M288.9,610.0L295.0,605.1" stroke="#ff8c14" stroke-width="1.12"/>
<path d="M295.0,605.1L308.3,596.0" stroke="#ff8c14" stroke-width="1.12"/>
<path d="M308.3,596.0L327.8,586.9" stroke="#ff8c14" stroke-width="1.13"/>
<path d="M327.8,586.9L345.9,562.2" stroke="#ff8c14" stroke-width="1.14"/>
<path d="M345.9,562.2L365.8,534.7" stroke="#ff8c14" stroke-width="1.15"/>
<path d="M365.8,534.7L386.0,527.5" stroke="#ff8c14" stroke-width="1.16"/>
<path d="M386.0,527.5L404.6,530.0" stroke="#ff8c14" stroke-width="1.18"/>
<path d="M404.6,530.0L426.2,524.0" stroke="#ff8c14" stroke-width="1.19"/>
<path d="M426.2,524.0L444.7,531.6" stroke="#ff8c14" stroke-width="1.20"/>
<path d="M444.7,531.6L463.6,540.9" stroke="#ff8c14" stroke-width="1.21"/>
<path d="M463.6,540.9L483.0,556.3" stroke="#ff8c14" stroke-width="1.22"/>
<path d="M483.0,556.3L504.0,568.7" stroke="#ff8c14" stroke-width="1.23"/>
<path d="M504.0,568.7L520.9,599.5" stroke="#ff8c14" stroke-width="1.24"/>
<path d="M520.9,599.5L542.5,610.9" stroke="#ff8c14" stroke-width="1.25"/>
<path d="M542.5,610.9L560.6,625.3" stroke="#ff8c14" stroke-width="1.26"/>
<path d="M560.6,625.3L580.6,637.9" stroke="#ff8c14" stroke-width="1.27"/>
<path d="M580.6,637.9L600.1,649.9" stroke="#ff8c14" stroke-width="1.28"/>
<path d="M600.1,649.9L620.7,654.0" stroke="#ff8c14" stroke-width="1.30"/>
<path d="M620.7,654.0L640.3,660.2" stroke="#ff8c14" stroke-width="1.31"/>
<path d="M640.3,660.2L659.4,666.3" stroke="#ff8c14" stroke-width="1.32"/>
<path d="M659.4,666.3L679.4,674.6" stroke="#ff8c14" stroke-width="1.33"/>
<path d="M679.4,674.6L697.5,682.2" stroke="#ff8c14" stroke-width="1.34"/>
<path d="M697.5,682.2L717.5,697.6" stroke="#ff8c14" stroke-width="1.35"/>
<path d="M717.5,697.6L735.4,713.1" stroke="#ff8c14" stroke-width="1.36"/>
<path d="M36.7,785.4L54.4,765.7" stroke="#ff8a12" stroke-width="1.05"/>
<path d="M54.4,765.7L65.0,760.0" stroke="#ff8a12" stroke-width="1.05"/>
<path d="M65.0,760.0L70.6,756.0" stroke="#ff8a12" stroke-width="1.06"/>
<path d="M70.6,756.0L92.3,758.1" stroke="#ff8a12" stroke-width="1.07"/>
<path d="M92.3,758.1L111.3,700.9" stroke="#ff8a12" stroke-width="1.08"/>
<path d="M111.3,700.9L132.3,659.7" stroke="#ff8a12" stroke-width="1.09"/>
<path d="M132.3,659.7L151.5,620.6" stroke="#ff8a12" stroke-width="1.10"/>
<path d="M151.5,620.6L170.0,590.4" stroke="#ff8a12" stroke-width="1.11"/>
<path d="M170.0,590.4L188.5,602.2" stroke="#ff8a12" stroke-width="1.13"/>
<path d="M188.5,602.2L209.1,520.3" stroke="#ff8a12" stroke-width="1.14"/>
<path d="M209.1,520.3L230.6,531.6" stroke="#ff8a12" stroke-width="1.15"/>
<path d="M230.6,531.6L249.1,506.3" stroke="#ff8a12" stroke-width="1.16"/>
<path d="M249.1,506.3L267.6,506.9" stroke="#ff8a12" stroke-width="1.17"/>
<path d="M267.6,506.9L287.2,477.1" stroke="#ff8a12" stroke-width="1.18"/>
<path d="M287.2,477.1L308.2,470.9" stroke="#ff8a12" stroke-width="1.20"/>
<path d="M308.2,470.9L327.7,446.2" stroke="#ff8a12" stroke-width="1.21"/>
<path d="M327.7,446.2L347.1,419.8" stroke="#ff8a12" stroke-width="1.22"/>
<path d="M347.1,419.8L366.4,401.9" stroke="#ff8a12" stroke-width="1.23"/>
<path d="M366.4,401.9L386.0,397.2" stroke="#ff8a12" stroke-width="1.24"/>
<path d="M386.0,397.2L404.8,395.5" stroke="#ff8a12" stroke-width="1.25"/>
<path d="M404.8,395.5L424.3,388.0" stroke="#ff8a12" stroke-width="1.26"/>
<path d="M424.3,388.0L443.9,407.9" stroke="#ff8a12" stroke-width="1.28"/>
<path d="M443.9,407.9L462.9,404.1" stroke="#ff8a12" stroke-width="1.29"/>
<path d="M462.9,404.1L470.0,412.3" stroke="#ff8a12" stroke-width="1.30"/>
<path d="M470.0,412.3L475.0,415.6" stroke="#ff8a12" stroke-width="1.30"/>
<path d="M475.0,415.6L483.1,422.6" stroke="#ff8a12" stroke-width="1.30"/>
<path d="M483.1,422.6L502.5,433.4" stroke="#ff8a12" stroke-width="1.31"/>
<path d="M502.5,433.4L521.9,464.9" stroke="#ff8a12" stroke-width="1.32"/>
<path d="M521.9,464.9L541.3,486.6" stroke="#ff8a12" stroke-width="1.33"/>
<path d="M541.3,486.6L556.1,509.7" stroke="#ff8a12" stroke-width="1.34"/>
<path d="M556.1,509.7L561.8,519.6" stroke="#ff8a12" stroke-width="1.35"/>
<path d="M561.8,519.6L570.0,524.3" stroke="#ff8a12" stroke-width="1.35"/>
<path d="M570.0,524.3L580.6,528.0" stroke="#ff8a12" stroke-width="1.36"/>
<path d="M580.6,528.0L599.9,549.2" stroke="#ff8a12" stroke-width="1.37"/>
<path d="M599.9,549.2L620.5,552.7" stroke="#ff8a12" stroke-width="1.38"/>
<path d="M620.5,552.7L640.5,571.4" stroke="#ff8a12" stroke-width="1.39"/>
<path d="M640.5,571.4L659.4,579.3" stroke="#ff8a12" stroke-width="1.40"/>
<path d="M659.4,579.3L679.4,601.3" stroke="#ff8a12" stroke-width="1.42"/>
<path d="M679.4,601.3L699.4,599.8" stroke="#ff8a12" stroke-width="1.43"/>
<path d="M699.4,599.8L717.5,615.3" stroke="#ff8a12" stroke-width="1.44"/>
<path d="M717.5,615.3L735.4,631.3" stroke="#ff8a12" stroke-width="1.45"/>
<path d="M36.8,931.3L55.9,902.0" stroke="#ea4318" stroke-width="0.92"/>
<path d="M55.9,902.0L73.6,876.7" stroke="#ea4318" stroke-width="0.92"/>
<path d="M73.6,876.7L93.8,862.9" stroke="#ea4318" stroke-width="0.93"/>
<path d="M93.8,862.9L113.4,860.3" stroke="#ea4318" stroke-width="0.95"/>
<path d="M113.4,860.3L132.9,835.1" stroke="#ea4318" stroke-width="0.96"/>
<path d="M132.9,835.1L151.5,790.9" stroke="#ea4318" stroke-width="0.97"/>
<path d="M151.5,790.9L159.4,760.5" stroke="#ea4318" stroke-width="0.97"/>
<path d="M159.4,760.5L171.1,716.6" stroke="#ea4318" stroke-width="0.98"/>
<path d="M171.1,716.6L180.0,707.4" stroke="#ea4318" stroke-width="0.98"/>
<path d="M180.0,707.4L190.4,696.6" stroke="#ea4318" stroke-width="0.99"/>
<path d="M190.4,696.6L211.4,693.1" stroke="#ea4318" stroke-width="1.00"/>
<path d="M211.4,693.1L229.1,677.9" stroke="#ea4318" stroke-width="1.01"/>
<path d="M229.1,677.9L250.1,705.7" stroke="#ea4318" stroke-width="1.02"/>
<path d="M250.1,705.7L267.4,677.7" stroke="#ea4318" stroke-width="1.03"/>
<path d="M267.4,677.7L280.0,657.1" stroke="#ea4318" stroke-width="1.03"/>
<path d="M280.0,657.1L288.9,644.3" stroke="#ea4318" stroke-width="1.04"/>
<path d="M288.9,644.3L295.0,637.7" stroke="#ea4318" stroke-width="1.04"/>
<path d="M295.0,637.7L308.3,624.0" stroke="#ea4318" stroke-width="1.05"/>
<path d="M308.3,624.0L327.8,599.4" stroke="#ea4318" stroke-width="1.06"/>
<path d="M327.8,599.4L347.2,582.3" stroke="#ea4318" stroke-width="1.07"/>
<path d="M347.2,582.3L366.5,573.7" stroke="#ea4318" stroke-width="1.08"/>
<path d="M366.5,573.7L386.0,556.0" stroke="#ea4318" stroke-width="1.09"/>
<path d="M386.0,556.0L405.6,554.9" stroke="#ea4318" stroke-width="1.10"/>
<path d="M405.6,554.9L425.1,553.8" stroke="#ea4318" stroke-width="1.11"/>
<path d="M425.1,553.8L444.7,556.9" stroke="#ea4318" stroke-width="1.12"/>
<path d="M444.7,556.9L463.6,563.1" stroke="#ea4318" stroke-width="1.13"/>
<path d="M463.6,563.1L483.0,576.9" stroke="#ea4318" stroke-width="1.14"/>
<path d="M483.0,576.9L503.0,587.2" stroke="#ea4318" stroke-width="1.15"/>
<path d="M503.0,587.2L521.9,606.7" stroke="#ea4318" stroke-width="1.16"/>
<path d="M521.9,606.7L542.5,625.3" stroke="#ea4318" stroke-width="1.17"/>
<path d="M542.5,625.3L560.6,643.8" stroke="#ea4318" stroke-width="1.18"/>
<path d="M560.6,643.8L583.7,671.5" stroke="#ea4318" stroke-width="1.19"/>
<path d="M583.7,671.5L601.2,703.8" stroke="#ea4318" stroke-width="1.20"/>
<path d="M601.2,703.8L621.1,706.9" stroke="#ea4318" stroke-width="1.21"/>
<path d="M621.1,706.9L640.3,715.7" stroke="#ea4318" stroke-width="1.22"/>
<path d="M640.3,715.7L659.4,723.5" stroke="#ea4318" stroke-width="1.23"/>
<path d="M659.4,723.5L679.4,744.1" stroke="#ea4318" stroke-width="1.24"/>
<path d="M679.4,744.1L699.4,752.8" stroke="#ea4318" stroke-width="1.25"/>
<path d="M699.4,752.8L717.5,755.9" stroke="#ea4318" stroke-width="1.26"/>
<path d="M717.5,755.9L735.4,763.5" stroke="#ea4318" stroke-width="1.27"/>
<path d="M190.1,727.4L211.4,741.1" stroke="#c81414" stroke-width="1.21"/>
<path d="M211.4,741.1L230.9,728.0" stroke="#c81414" stroke-width="1.22"/>
<path d="M230.9,728.0L250.1,682.5" stroke="#c81414" stroke-width="1.23"/>
<path d="M250.1,682.5L267.4,682.5" stroke="#c81414" stroke-width="1.25"/>
<path d="M267.4,682.5L280.0,674.3" stroke="#c81414" stroke-width="1.26"/>
<path d="M280.0,674.3L288.9,668.9" stroke="#c81414" stroke-width="1.26"/>
<path d="M288.9,668.9L297.3,661.0" stroke="#c81414" stroke-width="1.27"/>
<path d="M297.3,661.0L308.3,652.0" stroke="#c81414" stroke-width="1.27"/>
<path d="M308.3,652.0L327.8,626.9" stroke="#c81414" stroke-width="1.28"/>
<path d="M327.8,626.9L347.2,591.4" stroke="#c81414" stroke-width="1.30"/>
<path d="M347.2,591.4L367.0,559.4" stroke="#c81414" stroke-width="1.31"/>
<path d="M367.0,559.4L386.0,562.9" stroke="#c81414" stroke-width="1.32"/>
<path d="M386.0,562.9L405.6,558.0" stroke="#c81414" stroke-width="1.33"/>
<path d="M405.6,558.0L424.7,563.1" stroke="#c81414" stroke-width="1.34"/>
<path d="M424.7,563.1L444.7,556.9" stroke="#c81414" stroke-width="1.36"/>
<path d="M444.7,556.9L463.6,563.1" stroke="#c81414" stroke-width="1.37"/>
<path d="M463.6,563.1L483.0,580.0" stroke="#c81414" stroke-width="1.38"/>
<path d="M483.0,580.0L503.0,593.4" stroke="#c81414" stroke-width="1.39"/>
<path d="M503.0,593.4L521.9,607.8" stroke="#c81414" stroke-width="1.41"/>
<path d="M521.9,607.8L543.5,617.4" stroke="#c81414" stroke-width="1.42"/>
<path d="M543.5,617.4L560.6,637.6" stroke="#c81414" stroke-width="1.43"/>
<path d="M560.6,637.6L580.6,661.2" stroke="#c81414" stroke-width="1.44"/>
<path d="M580.6,661.2L599.1,681.8" stroke="#c81414" stroke-width="1.45"/>
<path d="M599.1,681.8L620.7,697.8" stroke="#c81414" stroke-width="1.47"/>
<path d="M620.7,697.8L640.3,708.5" stroke="#c81414" stroke-width="1.48"/>
<path d="M640.3,708.5L660.9,719.4" stroke="#c81414" stroke-width="1.49"/>
<path d="M660.9,719.4L678.8,734.5" stroke="#c81414" stroke-width="1.51"/>
<path d="M678.8,734.5L698.3,733.6" stroke="#c81414" stroke-width="1.52"/>
<path d="M698.3,733.6L718.5,742.1" stroke="#c81414" stroke-width="1.53"/>
<path d="M718.5,742.1L735.4,755.5" stroke="#c81414" stroke-width="1.54"/>
</g>
<g stroke="#555" stroke-width="1.1" fill="none">
<line x1="36.5" y1="29" x2="36.5" y2="973" stroke-width="1"/>
<line x1="36" y1="963.5" x2="736.5" y2="963.5" stroke-width="1"/>
<line x1="111.5" y1="963.5" x2="111.5" y2="973" stroke-width="1"/>
<line x1="187.5" y1="963.5" x2="187.5" y2="973" stroke-width="1"/>
<line x1="262.5" y1="963.5" x2="262.5" y2="973" stroke-width="1"/>
<line x1="338.5" y1="963.5" x2="338.5" y2="973" stroke-width="1"/>
<line x1="413.5" y1="963.5" x2="413.5" y2="973" stroke-width="1"/>
<line x1="490.5" y1="963.5" x2="490.5" y2="973" stroke-width="1"/>
<line x1="565.5" y1="963.5" x2="565.5" y2="973" stroke-width="1"/>
<line x1="641.5" y1="963.5" x2="641.5" y2="973" stroke-width="1"/>
<line x1="717.5" y1="963.5" x2="717.5" y2="973" stroke-width="1"/>
</g>
<text class="yl" x="32.6" y="33.9" text-anchor="end">4.500</text>
<text class="yl" x="32.6" y="168.6" text-anchor="end">4.000</text>
<text class="yl" x="32.6" y="300.8" text-anchor="end">3.500</text>
<text class="yl" x="32.6" y="433.7" text-anchor="end">3.000</text>
<text class="yl" x="32.6" y="568.6" text-anchor="end">2.500</text>
<text class="yl" x="32.6" y="699.5" text-anchor="end">2.000</text>
<text class="yl" x="32.6" y="834.6" text-anchor="end">1.500</text>
<text class="yl" x="32.6" y="965.5" text-anchor="end">1.000</text>
<text class="xl" x="32.2" y="991" text-anchor="middle">2002</text>
<text class="xl" x="106.7" y="991" text-anchor="middle">2003</text>
<text class="xl" x="182.7" y="991" text-anchor="middle">2004</text>
<text class="xl" x="258.5" y="991" text-anchor="middle">2005</text>
<text class="xl" x="333.6" y="991" text-anchor="middle">2006</text>
<text class="xl" x="409.5" y="991" text-anchor="middle">2007</text>
<text class="xl" x="485.6" y="991" text-anchor="middle">2008</text>
<text class="xl" x="560.6" y="991" text-anchor="middle">2009</text>
<text class="xl" x="636.6" y="991" text-anchor="middle">2010</text>
<text class="xl" x="712.6" y="991" text-anchor="middle">2011</text>
<text x="8.8" y="11.6" font-size="12.5" letter-spacing="0.6" fill="#777">euros/m2</text>
<text x="747" y="966" font-size="12.5" letter-spacing="0.4" fill="#777">año</text>
<text class="lb" x="740" y="240.8" fill="#c44df2" font-weight="400" stroke="#c44df2" stroke-width="0.3">pozuelo de alarcón</text>
<text class="lb" x="740" y="263" fill="#999999" font-weight="400" stroke="#999999" stroke-width="0.55">madrid</text>
<text class="lb" x="740" y="350" fill="#cc73f7" font-weight="400" stroke="#cc73f7" stroke-width="0.3">majadahonda</text>
<text class="lb" x="740" y="424.9" fill="#cf7cf8" font-weight="400" stroke="#cf7cf8" stroke-width="0.3">rozas de madrid (las)</text>
<text class="lb" x="740" y="436.1" fill="#d07ef8" font-weight="400" stroke="#d07ef8" stroke-width="0.3">boadilla del monte</text>
<text class="lb" x="740" y="446.8" fill="#5f7c9f" font-weight="400">tres cantos</text>
<text class="lb" x="740" y="499.2" fill="#8fa3bf" font-weight="400">alcobendas</text>
<text class="lb" x="740" y="510.2" fill="#7d93b1" font-weight="400">san sebastián de los reyes</text>
<text class="lb" x="740" y="549.7" fill="#cf78f8" font-weight="400" stroke="#cf78f8" stroke-width="0.3">torrelodones</text>
<text class="lb" x="740" y="591.6" fill="#8fbc8a" font-weight="400">san fernando de henares</text>
<text class="lb" x="740" y="602.5" fill="#d58cfa" font-weight="400">alcorcón</text>
<text class="lb" x="740" y="613.8" fill="#7fb070" font-weight="400">coslada</text>
<text class="lb" x="740" y="626" fill="#ffb066" font-weight="400">leganés</text>
<text class="lb" x="740" y="637.3"><tspan fill="#ff8a1a" stroke="#ff8a1a" stroke-width="0.5">getafe</tspan><tspan fill="#6aa560"> | rivas-vaciamadrid</tspan></text>
<text class="lb" x="740" y="648.5" fill="#2b507f" font-weight="400" stroke="#2b507f" stroke-width="0.3">colmenar viejo</text>
<text class="lb" x="740" y="664" fill="#14701a" font-weight="400" stroke="#14701a" stroke-width="0.55">alcalá de henares</text>
<text class="lb" x="740" y="683.2" fill="#5674a0" font-weight="400">collado villalba</text>
<text class="lb" x="740" y="694" fill="#529a52" font-weight="400">torrejón de ardoz</text>
<text class="lb" x="740" y="706.2" fill="#bb55f6" font-weight="400" stroke="#bb55f6" stroke-width="0.3">galapagar</text>
<text class="lb" x="740" y="719" fill="#ff8f1f" font-weight="400" stroke="#ff8f1f" stroke-width="0.3">fuenlabrada</text>
<text class="lb" x="740" y="732.8" fill="#ffb870" font-weight="400">móstoles</text>
<text class="lb" x="740" y="743.6" fill="#a11af8" font-weight="400">sevilla la nueva</text>
<text class="lb" x="740" y="757.7" fill="#cc1a1a" font-weight="400">aranjuez</text>
<text class="lb" x="740" y="768.5" fill="#ea4a1c" font-weight="400" stroke="#ea4a1c" stroke-width="0.3">parla</text>
<text x="1" y="1032.4" font-size="12.8" font-weight="700" fill="#333">zona</text>
<rect x="20.5" y="1043" width="15.0" height="14.5" fill="#1f4e79"/>
<rect x="35.2" y="1043" width="15.0" height="14.5" fill="#44679a"/>
<rect x="49.9" y="1043" width="15.0" height="14.5" fill="#6b86ab"/>
<rect x="64.6" y="1043" width="15.0" height="14.5" fill="#8fa3c0"/>
<rect x="79.3" y="1043" width="15.0" height="14.5" fill="#aabbd0"/>
<rect x="149.0" y="1043" width="15.0" height="14.5" fill="#d40000"/>
<rect x="163.7" y="1043" width="15.0" height="14.5" fill="#e83c10"/>
<rect x="178.4" y="1043" width="15.0" height="14.5" fill="#f07010"/>
<rect x="193.1" y="1043" width="15.0" height="14.5" fill="#ff8c10"/>
<rect x="207.8" y="1043" width="15.0" height="14.5" fill="#ffb060"/>
<rect x="267.0" y="1043" width="15.0" height="14.5" fill="#006400"/>
<rect x="281.7" y="1043" width="15.0" height="14.5" fill="#4f974f"/>
<rect x="296.4" y="1043" width="15.0" height="14.5" fill="#82b57c"/>
<rect x="311.1" y="1043" width="15.0" height="14.5" fill="#b5d6a8"/>
<rect x="376.6" y="1043" width="15.0" height="14.5" fill="#a000ff"/>
<rect x="391.3" y="1043" width="15.0" height="14.5" fill="#b84cf5"/>
<rect x="406.0" y="1043" width="15.0" height="14.5" fill="#cc78f8"/>
<rect x="420.7" y="1043" width="15.0" height="14.5" fill="#ebc8ff"/>
<text x="99" y="1055" font-size="13" fill="#4a4a4a">norte</text>
<text x="228" y="1055" font-size="13" fill="#4a4a4a">sur</text>
<text x="331" y="1055" font-size="13" fill="#4a4a4a">este</text>
<text x="441.7" y="1055" font-size="13" fill="#4a4a4a">oeste</text>
</svg></body></html>
